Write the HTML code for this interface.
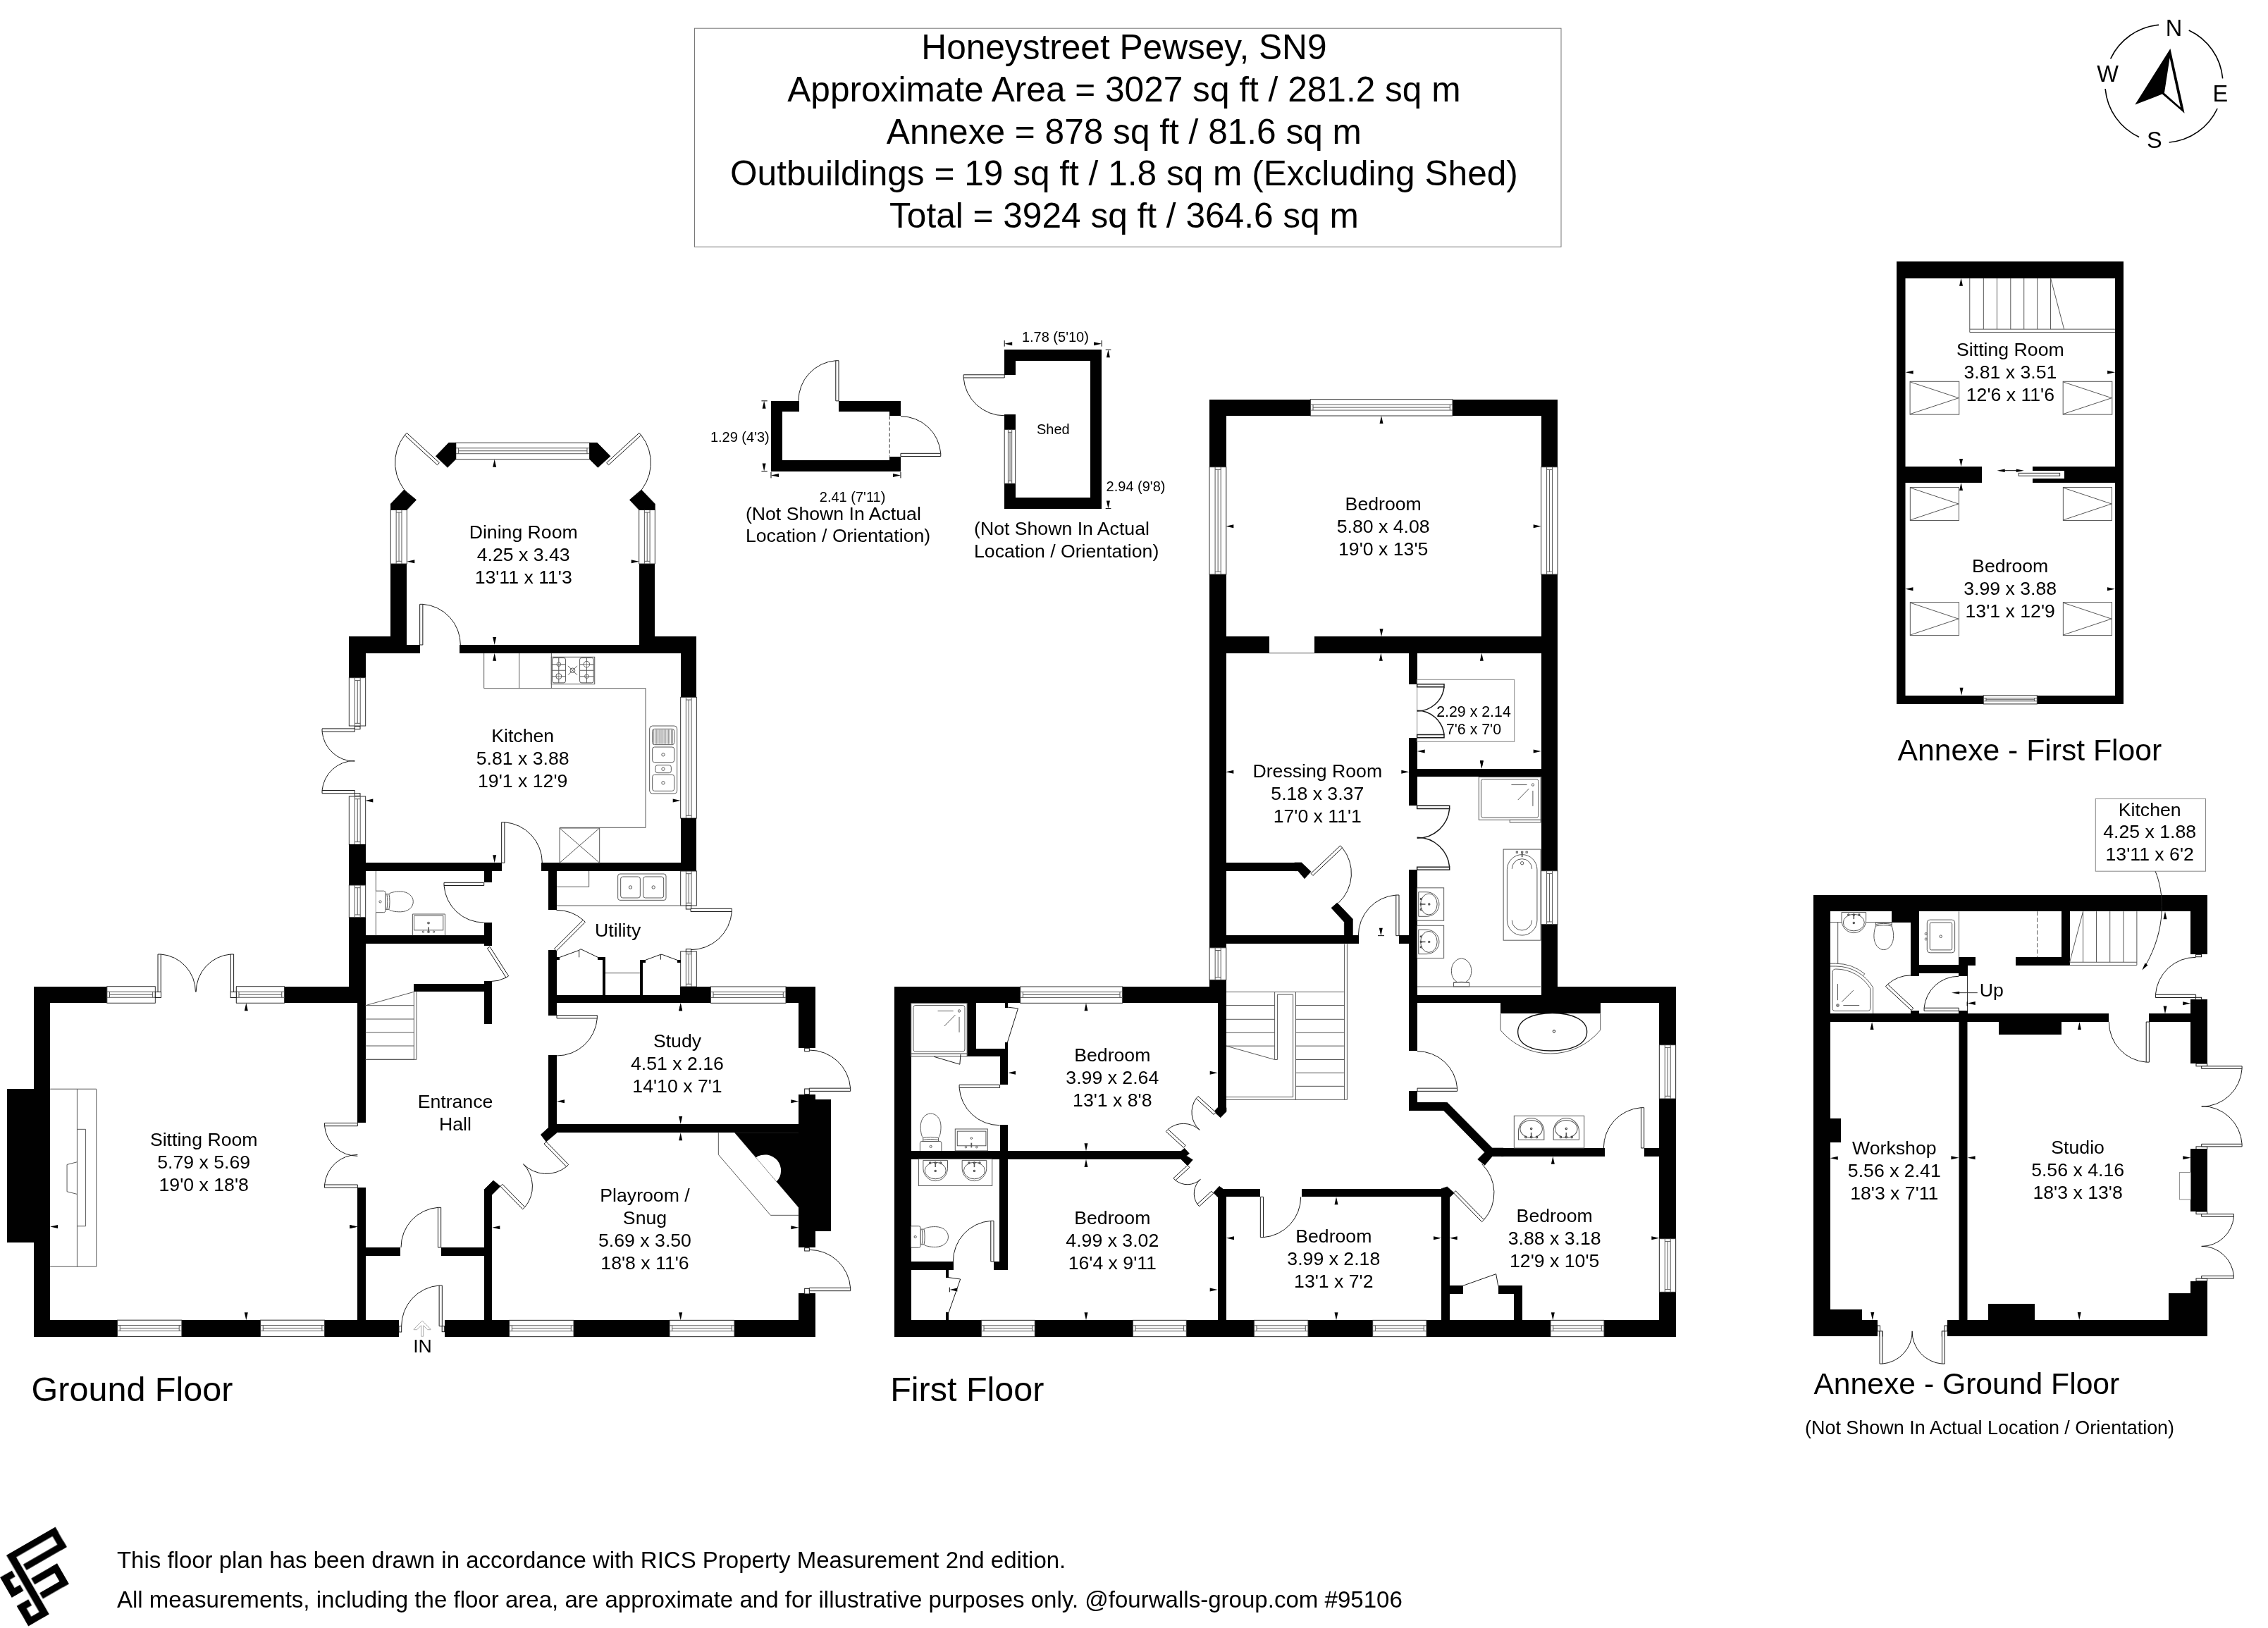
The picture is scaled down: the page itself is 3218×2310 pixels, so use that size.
<!DOCTYPE html>
<html><head><meta charset="utf-8"><title>Floor plan</title>
<style>html,body{margin:0;padding:0;background:#fff}svg{display:block}text{font-family:"Liberation Sans",sans-serif;fill:#000}</style>
</head><body>
<svg width="3218" height="2310" viewBox="0 0 3218 2310">
<rect x="0" y="0" width="3218" height="2310" fill="#fff"/>
<g opacity="0.999">
<rect x="985.5" y="40.2" width="1229.5" height="310.1" fill="#fff" stroke="#777" stroke-width="1"/>
<text x="1594.9" y="84.3" font-size="49.6" text-anchor="middle">Honeystreet Pewsey, SN9</text>
<text x="1594.9" y="143.9" font-size="49.6" text-anchor="middle">Approximate Area = 3027 sq ft / 281.2 sq m</text>
<text x="1594.9" y="203.5" font-size="49.6" text-anchor="middle">Annexe = 878 sq ft / 81.6 sq m</text>
<text x="1594.9" y="263.1" font-size="49.6" text-anchor="middle">Outbuildings = 19 sq ft / 1.8 sq m (Excluding Shed)</text>
<text x="1594.9" y="322.7" font-size="49.6" text-anchor="middle">Total = 3924 sq ft / 364.6 sq m</text>
<path d="M3105.73 42.93 A83.6 83.6 0 0 1 3153.68 111.41" fill="none" stroke="#000" stroke-width="1.6"/>
<path d="M3146.17 154.03 A83.6 83.6 0 0 1 3077.69 201.98" fill="none" stroke="#000" stroke-width="1.6"/>
<path d="M3035.07 194.47 A83.6 83.6 0 0 1 2987.12 125.99" fill="none" stroke="#000" stroke-width="1.6"/>
<path d="M2994.63 83.37 A83.6 83.6 0 0 1 3063.11 35.42" fill="none" stroke="#000" stroke-width="1.6"/>
<text x="3084.4" y="50.8" font-size="32.5" text-anchor="middle">N</text>
<text x="2990.5" y="115.7" font-size="32.5" text-anchor="middle">W</text>
<text x="3150.3" y="143.7" font-size="32.5" text-anchor="middle">E</text>
<text x="3056.9" y="210.1" font-size="32.5" text-anchor="middle">S</text>
<polygon points="3079.4,69 3099.6,160.8 3067.9,133.6 3029.3,148.6" fill="#000"/>
<polygon points="3078.6,82.3 3093.9,152.4 3070.9,132" fill="#fff"/>
<text x="44.6" y="1988.2" font-size="48.5" text-anchor="start">Ground Floor</text>
<text x="1263.2" y="1988.2" font-size="48.5" text-anchor="start">First Floor</text>
<text x="2692.6" y="1079.4" font-size="42.67" text-anchor="start">Annexe - First Floor</text>
<text x="2573.4" y="1977.6" font-size="42.67" text-anchor="start">Annexe - Ground Floor</text>
<text x="2561" y="2035" font-size="26.95" text-anchor="start">(Not Shown In Actual Location / Orientation)</text>
<text x="165.9" y="2224.5" font-size="33" text-anchor="start">This floor plan has been drawn in accordance with RICS Property Measurement 2nd edition.</text>
<text x="165.9" y="2280.8" font-size="33.05" text-anchor="start">All measurements, including the floor area, are approximate and for illustrative purposes only. @fourwalls-group.com #95106</text>
<g transform="translate(9.33 2206.5) rotate(-30) scale(0.09826)" fill="#000">
<rect x="-3" y="0" width="109" height="1047"/>
<rect x="0" y="0" width="811" height="97"/>
<rect x="710" y="0" width="101" height="333"/>
<rect x="140" y="237" width="671" height="96"/>
<rect x="139" y="470" width="433" height="102"/>
<rect x="471" y="470" width="101" height="339"/>
<rect x="139" y="712" width="433" height="97"/>
<rect x="-242" y="233" width="196" height="99"/>
<rect x="-242" y="233" width="105" height="336"/>
<rect x="-242" y="469" width="196" height="100"/>
<rect x="-240" y="711" width="193" height="100"/>
<rect x="-240" y="711" width="105" height="336"/>
<rect x="-240" y="948" width="340" height="99"/>
</g>
<rect x="48" y="1400" width="23" height="496" fill="#000"/>
<rect x="48" y="1400" width="471" height="23" fill="#000"/>
<rect x="48" y="1873" width="518" height="24" fill="#000"/>
<rect x="10" y="1545" width="38" height="218" fill="#000"/>
<rect x="496" y="1340" width="23" height="83" fill="#000"/>
<rect x="507" y="1423" width="12" height="170" fill="#000"/>
<rect x="507" y="1685" width="12" height="188" fill="#000"/>
<rect x="151.8" y="1399.69" width="68.53" height="23.58" fill="#fff" stroke="#333" stroke-width="1"/>
<line x1="151.8" y1="1407.24" x2="220.33" y2="1407.24" stroke="#585858" stroke-width="1"/>
<line x1="151.8" y1="1415.25" x2="220.33" y2="1415.25" stroke="#585858" stroke-width="1"/>
<line x1="155.5" y1="1407.24" x2="155.5" y2="1415.25" stroke="#585858" stroke-width="1"/>
<line x1="216.63" y1="1407.24" x2="216.63" y2="1415.25" stroke="#585858" stroke-width="1"/>
<line x1="155.5" y1="1411.24" x2="216.63" y2="1411.24" stroke="#585858" stroke-width="1"/>
<rect x="335.29" y="1399.69" width="68.16" height="23.58" fill="#fff" stroke="#333" stroke-width="1"/>
<line x1="335.29" y1="1407.24" x2="403.45" y2="1407.24" stroke="#585858" stroke-width="1"/>
<line x1="335.29" y1="1415.25" x2="403.45" y2="1415.25" stroke="#585858" stroke-width="1"/>
<line x1="338.99" y1="1407.24" x2="338.99" y2="1415.25" stroke="#585858" stroke-width="1"/>
<line x1="399.75" y1="1407.24" x2="399.75" y2="1415.25" stroke="#585858" stroke-width="1"/>
<line x1="338.99" y1="1411.24" x2="399.75" y2="1411.24" stroke="#585858" stroke-width="1"/>
<rect x="220.83" y="1397.95" width="113.96" height="27.05" fill="#fff"/>
<rect x="166.54" y="1873.15" width="91.38" height="23.21" fill="#fff" stroke="#333" stroke-width="1"/>
<line x1="166.54" y1="1880.58" x2="257.92" y2="1880.58" stroke="#585858" stroke-width="1"/>
<line x1="166.54" y1="1888.47" x2="257.92" y2="1888.47" stroke="#585858" stroke-width="1"/>
<line x1="170.24" y1="1880.58" x2="170.24" y2="1888.47" stroke="#585858" stroke-width="1"/>
<line x1="254.22" y1="1880.58" x2="254.22" y2="1888.47" stroke="#585858" stroke-width="1"/>
<line x1="170.24" y1="1884.52" x2="254.22" y2="1884.52" stroke="#585858" stroke-width="1"/>
<rect x="369.56" y="1873.15" width="91.01" height="23.21" fill="#fff" stroke="#333" stroke-width="1"/>
<line x1="369.56" y1="1880.58" x2="460.56" y2="1880.58" stroke="#585858" stroke-width="1"/>
<line x1="369.56" y1="1888.47" x2="460.56" y2="1888.47" stroke="#585858" stroke-width="1"/>
<line x1="373.26" y1="1880.58" x2="373.26" y2="1888.47" stroke="#585858" stroke-width="1"/>
<line x1="456.86" y1="1880.58" x2="456.86" y2="1888.47" stroke="#585858" stroke-width="1"/>
<line x1="373.26" y1="1884.52" x2="456.86" y2="1884.52" stroke="#585858" stroke-width="1"/>
<path d="M71.11 1545.23 L136.7 1545.23 L136.7 1797.25 L71.11 1797.25" fill="none" stroke="#585858" stroke-width="1"/>
<line x1="109.43" y1="1545.23" x2="109.43" y2="1797.25" stroke="#585858" stroke-width="1"/>
<path d="M109.43 1602.34 L121.59 1602.34 L121.59 1739.77 L109.43 1739.77" fill="none" stroke="#585858" stroke-width="1"/>
<path d="M109.43 1648.76 L95.06 1652.45 L95.06 1690.77 L109.43 1694.45" fill="none" stroke="#585858" stroke-width="1"/>
<rect x="220.33" y="1407.43" width="8.11" height="8.11" fill="#fff" stroke="#1a1a1a" stroke-width="1"/>
<rect x="327.18" y="1407.43" width="8.11" height="8.11" fill="#fff" stroke="#1a1a1a" stroke-width="1"/>
<polygon points="224.02,1407.43 224.02,1354 228.22,1354 228.22,1407.43" fill="#fff" stroke="#1a1a1a" stroke-width="1"/>
<path d="M228.22 1354 A53.43 53.43 0 0 1 277.44 1407.43" fill="none" stroke="#1a1a1a" stroke-width="1"/>
<polygon points="331.61,1407.43 331.61,1354 327.41,1354 327.41,1407.43" fill="#fff" stroke="#1a1a1a" stroke-width="1"/>
<path d="M327.41 1354 A53.43 53.43 0 0 0 278.18 1407.43" fill="none" stroke="#1a1a1a" stroke-width="1"/>
<polygon points="507.36,1593.49 460.56,1593.49 460.56,1597.69 507.36,1597.69" fill="#fff" stroke="#1a1a1a" stroke-width="1"/>
<path d="M460.56 1597.69 A46.79 46.79 0 0 0 507.36 1640.29" fill="none" stroke="#1a1a1a" stroke-width="1"/>
<polygon points="507.36,1685.24 460.56,1685.24 460.56,1681.04 507.36,1681.04" fill="#fff" stroke="#1a1a1a" stroke-width="1"/>
<path d="M460.56 1681.04 A46.79 46.79 0 0 1 507.36 1638.45" fill="none" stroke="#1a1a1a" stroke-width="1"/>
<polygon points="349.29,1423.27 346.79,1434.27 351.79,1434.27" fill="#000"/>
<polygon points="349.29,1873.15 346.79,1862.15 351.79,1862.15" fill="#000"/>
<polygon points="71.11,1740.51 82.11,1738.01 82.11,1743.01" fill="#000"/>
<polygon points="507.36,1740.51 496.36,1738.01 496.36,1743.01" fill="#000"/>
<text x="289.2" y="1625.5" font-size="26.67" text-anchor="middle">Sitting Room</text>
<text x="289.2" y="1657.5" font-size="26.67" text-anchor="middle">5.79 x 5.69</text>
<text x="289.2" y="1689.5" font-size="26.67" text-anchor="middle">19'0 x 18'8</text>
<rect x="587" y="1396" width="111" height="11" fill="#000"/>
<rect x="687" y="1392" width="11" height="61" fill="#000"/>
<rect x="778" y="1380" width="12" height="61" fill="#000"/>
<rect x="778" y="1497" width="12" height="98" fill="#000"/>
<rect x="778" y="1412" width="379" height="11" fill="#000"/>
<rect x="965" y="1400" width="192" height="23" fill="#000"/>
<rect x="1008.33" y="1400" width="106.67" height="23.33" fill="#fff" stroke="#333" stroke-width="1"/>
<line x1="1008.33" y1="1407.47" x2="1115" y2="1407.47" stroke="#585858" stroke-width="1"/>
<line x1="1008.33" y1="1415.4" x2="1115" y2="1415.4" stroke="#585858" stroke-width="1"/>
<line x1="1012.03" y1="1407.47" x2="1012.03" y2="1415.4" stroke="#585858" stroke-width="1"/>
<line x1="1111.3" y1="1407.47" x2="1111.3" y2="1415.4" stroke="#585858" stroke-width="1"/>
<line x1="1012.03" y1="1411.43" x2="1111.3" y2="1411.43" stroke="#585858" stroke-width="1"/>
<rect x="778" y="1595" width="355" height="12" fill="#000"/>
<rect x="1133" y="1400" width="24" height="87" fill="#000"/>
<rect x="1133" y="1553" width="24" height="217" fill="#000"/>
<rect x="1133" y="1835" width="24" height="62" fill="#000"/>
<rect x="1157" y="1560" width="22" height="187" fill="#000"/>
<polygon points="1042.67,1607.33 1133.33,1607.33 1133.33,1713.33" fill="#000" stroke="#000" stroke-width="0.7"/>
<path d="M1072.66 1642.4 A22.6 22.6 0 0 1 1101.88 1676.57 Z" fill="#fff" stroke="none" stroke-width="1"/>
<path d="M1019.33 1607.33 L1019.33 1638.33 L1093.33 1724.33 L1133.33 1724.33" fill="none" stroke="#585858" stroke-width="1"/>
<rect x="480" y="1873" width="86" height="24" fill="#000"/>
<rect x="631" y="1873" width="526" height="24" fill="#000"/>
<rect x="722.67" y="1873.33" width="91.33" height="23.33" fill="#fff" stroke="#333" stroke-width="1"/>
<line x1="722.67" y1="1880.8" x2="814" y2="1880.8" stroke="#585858" stroke-width="1"/>
<line x1="722.67" y1="1888.73" x2="814" y2="1888.73" stroke="#585858" stroke-width="1"/>
<line x1="726.37" y1="1880.8" x2="726.37" y2="1888.73" stroke="#585858" stroke-width="1"/>
<line x1="810.3" y1="1880.8" x2="810.3" y2="1888.73" stroke="#585858" stroke-width="1"/>
<line x1="726.37" y1="1884.77" x2="810.3" y2="1884.77" stroke="#585858" stroke-width="1"/>
<rect x="950" y="1873.33" width="92" height="23.33" fill="#fff" stroke="#333" stroke-width="1"/>
<line x1="950" y1="1880.8" x2="1042" y2="1880.8" stroke="#585858" stroke-width="1"/>
<line x1="950" y1="1888.73" x2="1042" y2="1888.73" stroke="#585858" stroke-width="1"/>
<line x1="953.7" y1="1880.8" x2="953.7" y2="1888.73" stroke="#585858" stroke-width="1"/>
<line x1="1038.3" y1="1880.8" x2="1038.3" y2="1888.73" stroke="#585858" stroke-width="1"/>
<line x1="953.7" y1="1884.77" x2="1038.3" y2="1884.77" stroke="#585858" stroke-width="1"/>
<rect x="687" y="1688" width="11" height="185" fill="#000"/>
<rect x="507" y="1770" width="61" height="12" fill="#000"/>
<rect x="626" y="1770" width="72" height="12" fill="#000"/>
<polygon points="767.33,1610 778.33,1600 790,1607.33 775,1620" fill="#000" stroke="#000" stroke-width="0.7"/>
<polygon points="686.67,1688.33 700,1675 710,1683.33 698.33,1695" fill="#000" stroke="#000" stroke-width="0.7"/>
<polygon points="790,1440.67 847.33,1440.67 847.33,1444.87 790,1444.87" fill="#fff" stroke="#1a1a1a" stroke-width="1"/>
<path d="M847.33 1444.87 A57.33 57.33 0 0 1 790 1498" fill="none" stroke="#1a1a1a" stroke-width="1"/>
<polygon points="775,1620 806.66,1652.44 803.66,1655.38 771.99,1622.93" fill="#fff" stroke="#1a1a1a" stroke-width="1"/>
<path d="M803.66 1655.38 A45.33 45.33 0 0 1 742.56 1651.66" fill="none" stroke="#1a1a1a" stroke-width="1"/>
<polygon points="710,1683.33 741.66,1715.78 744.67,1712.84 713.01,1680.4" fill="#fff" stroke="#1a1a1a" stroke-width="1"/>
<path d="M744.67 1712.84 A45.33 45.33 0 0 0 742.44 1651.67" fill="none" stroke="#1a1a1a" stroke-width="1"/>
<polygon points="625.67,1770 625.67,1713.33 621.47,1713.33 621.47,1770" fill="#fff" stroke="#1a1a1a" stroke-width="1"/>
<path d="M621.47 1713.33 A56.67 56.67 0 0 0 569 1770" fill="none" stroke="#1a1a1a" stroke-width="1"/>
<polygon points="627.33,1881.67 627.33,1824 623.13,1824 623.13,1881.67" fill="#fff" stroke="#1a1a1a" stroke-width="1"/>
<path d="M623.13 1824 A57.67 57.67 0 0 0 569.67 1881.67" fill="none" stroke="#1a1a1a" stroke-width="1"/>
<rect x="627.2" y="1881.67" width="3.47" height="8" fill="#fff" stroke="#1a1a1a" stroke-width="1"/>
<rect x="566" y="1881.67" width="3.67" height="8.33" fill="#fff" stroke="#1a1a1a" stroke-width="1"/>
<rect x="1141.67" y="1545" width="6.67" height="7.67" fill="#fff" stroke="#1a1a1a" stroke-width="1"/>
<rect x="1141.67" y="1487.33" width="6.67" height="4.33" fill="#fff" stroke="#1a1a1a" stroke-width="1"/>
<polygon points="1148.33,1548.33 1206.67,1548.33 1206.67,1544.13 1148.33,1544.13" fill="#fff" stroke="#1a1a1a" stroke-width="1"/>
<path d="M1206.67 1544.13 A58.33 58.33 0 0 0 1148.33 1490" fill="none" stroke="#1a1a1a" stroke-width="1"/>
<rect x="1141.67" y="1828.33" width="6.67" height="7.67" fill="#fff" stroke="#1a1a1a" stroke-width="1"/>
<rect x="1141.67" y="1770.67" width="6.67" height="4.33" fill="#fff" stroke="#1a1a1a" stroke-width="1"/>
<polygon points="1148.33,1831.67 1206.67,1831.67 1206.67,1827.47 1148.33,1827.47" fill="#fff" stroke="#1a1a1a" stroke-width="1"/>
<path d="M1206.67 1827.47 A58.33 58.33 0 0 0 1148.33 1773.33" fill="none" stroke="#1a1a1a" stroke-width="1"/>
<line x1="518.67" y1="1426.67" x2="587.33" y2="1426.67" stroke="#585858" stroke-width="1"/>
<line x1="518.67" y1="1446" x2="587.33" y2="1446" stroke="#585858" stroke-width="1"/>
<line x1="518.67" y1="1465" x2="587.33" y2="1465" stroke="#585858" stroke-width="1"/>
<line x1="518.67" y1="1484" x2="587.33" y2="1484" stroke="#585858" stroke-width="1"/>
<line x1="518.67" y1="1503.33" x2="587.33" y2="1503.33" stroke="#585858" stroke-width="1"/>
<line x1="518.67" y1="1426.67" x2="587.33" y2="1407.33" stroke="#585858" stroke-width="1"/>
<path d="M587.33 1407.33 L587.33 1503.33" fill="none" stroke="#585858" stroke-width="1"/>
<path d="M591 1407.33 L591 1503.33 L518.67 1503.33" fill="none" stroke="#585858" stroke-width="1"/>
<polygon points="965.67,1423.33 963.17,1434.33 968.17,1434.33" fill="#000"/>
<polygon points="965.67,1595 963.17,1584 968.17,1584" fill="#000"/>
<polygon points="965.67,1607.33 963.17,1618.33 968.17,1618.33" fill="#000"/>
<polygon points="790,1562.67 801,1560.17 801,1565.17" fill="#000"/>
<polygon points="1133.33,1562.67 1122.33,1560.17 1122.33,1565.17" fill="#000"/>
<polygon points="698.33,1741.67 709.33,1739.17 709.33,1744.17" fill="#000"/>
<polygon points="1133.33,1741.67 1122.33,1739.17 1122.33,1744.17" fill="#000"/>
<polygon points="965.67,1873.33 963.17,1862.33 968.17,1862.33" fill="#000"/>
<polygon points="507.33,1740.67 496.33,1738.17 496.33,1743.17" fill="#000"/>
<text x="646" y="1571.7" font-size="26.67" text-anchor="middle">Entrance</text>
<text x="646" y="1603.7" font-size="26.67" text-anchor="middle">Hall</text>
<text x="961" y="1486" font-size="26.67" text-anchor="middle">Study</text>
<text x="961" y="1518" font-size="26.67" text-anchor="middle">4.51 x 2.16</text>
<text x="961" y="1550" font-size="26.67" text-anchor="middle">14'10 x 7'1</text>
<text x="915" y="1705" font-size="26.67" text-anchor="middle">Playroom /</text>
<text x="915" y="1737" font-size="26.67" text-anchor="middle">Snug</text>
<text x="915" y="1769" font-size="26.67" text-anchor="middle">5.69 x 3.50</text>
<text x="915" y="1801" font-size="26.67" text-anchor="middle">18'8 x 11'6</text>
<text x="599.5" y="1919.3" font-size="26.67" text-anchor="middle">IN</text>
<path d="M599.1 1874.1 L611 1885.9 L611 1886.7 L606.6 1886.7 L600.7 1880.8 L600.7 1896.2 L597.6 1896.2 L597.6 1880.8 L591.5 1886.7 L587.1 1886.7 L587.1 1885.9 Z" fill="none" stroke="#aaa" stroke-width="1"/>
<rect x="554" y="800" width="23" height="115" fill="#000"/>
<rect x="554.33" y="723.33" width="23" height="76.67" fill="#fff" stroke="#333" stroke-width="1"/>
<line x1="562.15" y1="723.33" x2="562.15" y2="800" stroke="#585858" stroke-width="1"/>
<line x1="569.97" y1="723.33" x2="569.97" y2="800" stroke="#585858" stroke-width="1"/>
<line x1="562.15" y1="727.03" x2="569.97" y2="727.03" stroke="#585858" stroke-width="1"/>
<line x1="562.15" y1="796.3" x2="569.97" y2="796.3" stroke="#585858" stroke-width="1"/>
<line x1="566.06" y1="727.03" x2="566.06" y2="796.3" stroke="#585858" stroke-width="1"/>
<polygon points="554.33,715 573.33,695 590.67,709.33 577.33,723.33 554.33,723.33" fill="#000" stroke="#000" stroke-width="0.7"/>
<rect x="646.67" y="628.33" width="190" height="23.33" fill="#fff" stroke="#333" stroke-width="1"/>
<line x1="646.67" y1="635.8" x2="836.67" y2="635.8" stroke="#585858" stroke-width="1"/>
<line x1="646.67" y1="643.73" x2="836.67" y2="643.73" stroke="#585858" stroke-width="1"/>
<line x1="650.37" y1="635.8" x2="650.37" y2="643.73" stroke="#585858" stroke-width="1"/>
<line x1="832.97" y1="635.8" x2="832.97" y2="643.73" stroke="#585858" stroke-width="1"/>
<line x1="650.37" y1="639.77" x2="832.97" y2="639.77" stroke="#585858" stroke-width="1"/>
<polygon points="636.67,628.33 646.67,628.33 646.67,651.67 635,663.33 618.33,647.33" fill="#000" stroke="#000" stroke-width="0.7"/>
<polygon points="836.67,628.33 847.33,628.33 866,647.33 848.33,663.33 836.67,651.67" fill="#000" stroke="#000" stroke-width="0.7"/>
<rect x="907" y="800" width="22" height="115" fill="#000"/>
<rect x="906.67" y="723.33" width="22.67" height="76.67" fill="#fff" stroke="#333" stroke-width="1"/>
<line x1="914.37" y1="723.33" x2="914.37" y2="800" stroke="#585858" stroke-width="1"/>
<line x1="922.08" y1="723.33" x2="922.08" y2="800" stroke="#585858" stroke-width="1"/>
<line x1="914.37" y1="727.03" x2="922.08" y2="727.03" stroke="#585858" stroke-width="1"/>
<line x1="914.37" y1="796.3" x2="922.08" y2="796.3" stroke="#585858" stroke-width="1"/>
<line x1="918.23" y1="727.03" x2="918.23" y2="796.3" stroke="#585858" stroke-width="1"/>
<polygon points="929.33,715 910,695 893.33,709.33 906.67,723.33 929.33,723.33" fill="#000" stroke="#000" stroke-width="0.7"/>
<rect x="495" y="903" width="82" height="24" fill="#000"/>
<rect x="577" y="915" width="19" height="12" fill="#000"/>
<rect x="652" y="915" width="255" height="12" fill="#000"/>
<rect x="907" y="903" width="81" height="24" fill="#000"/>
<rect x="495" y="903" width="24" height="59" fill="#000"/>
<rect x="966" y="903" width="22" height="86" fill="#000"/>
<polygon points="623.33,656.67 577.13,614.33 574.29,617.43 620.5,659.76" fill="#fff" stroke="#1a1a1a" stroke-width="1"/>
<path d="M574.29 617.43 A62.67 62.67 0 0 0 581 702.87" fill="none" stroke="#1a1a1a" stroke-width="1"/>
<polygon points="860.67,656.67 906.87,614.33 909.71,617.43 863.5,659.76" fill="#fff" stroke="#1a1a1a" stroke-width="1"/>
<path d="M909.71 617.43 A62.67 62.67 0 0 1 903 702.87" fill="none" stroke="#1a1a1a" stroke-width="1"/>
<polygon points="595.67,915 595.67,857.33 599.87,857.33 599.87,915" fill="#fff" stroke="#1a1a1a" stroke-width="1"/>
<path d="M599.87 857.33 A57.67 57.67 0 0 1 653.33 915" fill="none" stroke="#1a1a1a" stroke-width="1"/>
<path d="M686.67 926.67 L686.67 976.67 L916 976.67 L916 1174.33 L794 1174.33" fill="none" stroke="#585858" stroke-width="1"/>
<line x1="736.67" y1="926.67" x2="736.67" y2="976.67" stroke="#585858" stroke-width="1"/>
<line x1="782.33" y1="926.67" x2="782.33" y2="976.67" stroke="#585858" stroke-width="1"/>
<rect x="782.29" y="932.29" width="61.44" height="38.34" fill="#fff" stroke="#585858" stroke-width="1"/>
<rect x="783.47" y="933.47" width="18.97" height="35.39" rx="2.5" fill="none" stroke="#585858" stroke-width="1"/>
<line x1="792.81" y1="933.47" x2="792.81" y2="968.86" stroke="#585858" stroke-width="1"/>
<line x1="783.47" y1="942.81" x2="802.44" y2="942.81" stroke="#585858" stroke-width="1"/>
<line x1="783.47" y1="951.26" x2="802.44" y2="951.26" stroke="#585858" stroke-width="1"/>
<line x1="783.47" y1="959.81" x2="802.44" y2="959.81" stroke="#585858" stroke-width="1"/>
<circle cx="792.81" cy="942.61" r="2.8" fill="#fff" stroke="#585858" stroke-width="1"/>
<line x1="790.01" y1="942.61" x2="795.61" y2="942.61" stroke="#585858" stroke-width="0.7"/>
<line x1="792.81" y1="939.81" x2="792.81" y2="945.41" stroke="#585858" stroke-width="0.7"/>
<circle cx="792.81" cy="959.62" r="4" fill="#fff" stroke="#585858" stroke-width="1"/>
<line x1="788.81" y1="959.62" x2="796.81" y2="959.62" stroke="#585858" stroke-width="0.7"/>
<line x1="792.81" y1="955.62" x2="792.81" y2="963.62" stroke="#585858" stroke-width="0.7"/>
<rect x="822.59" y="933.47" width="19.66" height="35.39" rx="2.5" fill="none" stroke="#585858" stroke-width="1"/>
<line x1="832.42" y1="933.47" x2="832.42" y2="968.86" stroke="#585858" stroke-width="1"/>
<line x1="822.59" y1="942.81" x2="842.25" y2="942.81" stroke="#585858" stroke-width="1"/>
<line x1="822.59" y1="951.26" x2="842.25" y2="951.26" stroke="#585858" stroke-width="1"/>
<line x1="822.59" y1="959.81" x2="842.25" y2="959.81" stroke="#585858" stroke-width="1"/>
<circle cx="832.42" cy="942.61" r="4.1" fill="#fff" stroke="#585858" stroke-width="1"/>
<line x1="828.32" y1="942.61" x2="836.52" y2="942.61" stroke="#585858" stroke-width="0.7"/>
<line x1="832.42" y1="938.51" x2="832.42" y2="946.71" stroke="#585858" stroke-width="0.7"/>
<circle cx="832.42" cy="959.62" r="2.8" fill="#fff" stroke="#585858" stroke-width="1"/>
<line x1="829.62" y1="959.62" x2="835.22" y2="959.62" stroke="#585858" stroke-width="0.7"/>
<line x1="832.42" y1="956.82" x2="832.42" y2="962.42" stroke="#585858" stroke-width="0.7"/>
<circle cx="812.47" cy="951.26" r="3.3" fill="none" stroke="#585858" stroke-width="1"/>
<line x1="806.07" y1="944.86" x2="818.87" y2="957.66" stroke="#585858" stroke-width="1"/>
<line x1="806.07" y1="957.66" x2="818.87" y2="944.86" stroke="#585858" stroke-width="1"/>
<polygon points="701.67,651.67 699.17,662.67 704.17,662.67" fill="#000"/>
<polygon points="577.33,796.67 588.33,794.17 588.33,799.17" fill="#000"/>
<polygon points="906.67,796.67 895.67,794.17 895.67,799.17" fill="#000"/>
<polygon points="701.67,915 699.17,904 704.17,904" fill="#000"/>
<polygon points="701.67,926.67 699.17,937.67 704.17,937.67" fill="#000"/>
<text x="742.7" y="764" font-size="26.67" text-anchor="middle">Dining Room</text>
<text x="742.7" y="796" font-size="26.67" text-anchor="middle">4.25 x 3.43</text>
<text x="742.7" y="828" font-size="26.67" text-anchor="middle">13'11 x 11'3</text>
<text x="741.7" y="1052.7" font-size="26.67" text-anchor="middle">Kitchen</text>
<text x="741.7" y="1084.7" font-size="26.67" text-anchor="middle">5.81 x 3.88</text>
<text x="741.7" y="1116.7" font-size="26.67" text-anchor="middle">19'1 x 12'9</text>
<rect x="495.33" y="961.67" width="23.33" height="68.33" fill="#fff" stroke="#333" stroke-width="1"/>
<line x1="503.27" y1="961.67" x2="503.27" y2="1030" stroke="#585858" stroke-width="1"/>
<line x1="511.2" y1="961.67" x2="511.2" y2="1030" stroke="#585858" stroke-width="1"/>
<line x1="503.27" y1="965.37" x2="511.2" y2="965.37" stroke="#585858" stroke-width="1"/>
<line x1="503.27" y1="1026.3" x2="511.2" y2="1026.3" stroke="#585858" stroke-width="1"/>
<line x1="507.23" y1="965.37" x2="507.23" y2="1026.3" stroke="#585858" stroke-width="1"/>
<rect x="495.33" y="1130" width="23.33" height="68.33" fill="#fff" stroke="#333" stroke-width="1"/>
<line x1="503.27" y1="1130" x2="503.27" y2="1198.33" stroke="#585858" stroke-width="1"/>
<line x1="511.2" y1="1130" x2="511.2" y2="1198.33" stroke="#585858" stroke-width="1"/>
<line x1="503.27" y1="1133.7" x2="511.2" y2="1133.7" stroke="#585858" stroke-width="1"/>
<line x1="503.27" y1="1194.63" x2="511.2" y2="1194.63" stroke="#585858" stroke-width="1"/>
<line x1="507.23" y1="1133.7" x2="507.23" y2="1194.63" stroke="#585858" stroke-width="1"/>
<rect x="495" y="1198" width="24" height="58" fill="#000"/>
<rect x="495.33" y="1256" width="23.33" height="45.67" fill="#fff" stroke="#333" stroke-width="1"/>
<line x1="503.27" y1="1256" x2="503.27" y2="1301.67" stroke="#585858" stroke-width="1"/>
<line x1="511.2" y1="1256" x2="511.2" y2="1301.67" stroke="#585858" stroke-width="1"/>
<line x1="503.27" y1="1259.7" x2="511.2" y2="1259.7" stroke="#585858" stroke-width="1"/>
<line x1="503.27" y1="1297.97" x2="511.2" y2="1297.97" stroke="#585858" stroke-width="1"/>
<line x1="507.23" y1="1259.7" x2="507.23" y2="1297.97" stroke="#585858" stroke-width="1"/>
<rect x="495" y="1302" width="24" height="98" fill="#000"/>
<rect x="495" y="1224" width="217" height="12" fill="#000"/>
<rect x="768" y="1224" width="220" height="12" fill="#000"/>
<rect x="965.67" y="989.33" width="22.67" height="171.67" fill="#fff" stroke="#333" stroke-width="1"/>
<line x1="973.37" y1="989.33" x2="973.37" y2="1161" stroke="#585858" stroke-width="1"/>
<line x1="981.08" y1="989.33" x2="981.08" y2="1161" stroke="#585858" stroke-width="1"/>
<line x1="973.37" y1="993.03" x2="981.08" y2="993.03" stroke="#585858" stroke-width="1"/>
<line x1="973.37" y1="1157.3" x2="981.08" y2="1157.3" stroke="#585858" stroke-width="1"/>
<line x1="977.23" y1="993.03" x2="977.23" y2="1157.3" stroke="#585858" stroke-width="1"/>
<rect x="966" y="1161" width="22" height="75" fill="#000"/>
<rect x="965.67" y="1236" width="22.67" height="49" fill="#fff" stroke="#333" stroke-width="1"/>
<line x1="973.37" y1="1236" x2="973.37" y2="1285" stroke="#585858" stroke-width="1"/>
<line x1="981.08" y1="1236" x2="981.08" y2="1285" stroke="#585858" stroke-width="1"/>
<line x1="973.37" y1="1239.7" x2="981.08" y2="1239.7" stroke="#585858" stroke-width="1"/>
<line x1="973.37" y1="1281.3" x2="981.08" y2="1281.3" stroke="#585858" stroke-width="1"/>
<line x1="977.23" y1="1239.7" x2="977.23" y2="1281.3" stroke="#585858" stroke-width="1"/>
<rect x="965.67" y="1350" width="22.67" height="50" fill="#fff" stroke="#333" stroke-width="1"/>
<line x1="973.37" y1="1350" x2="973.37" y2="1400" stroke="#585858" stroke-width="1"/>
<line x1="981.08" y1="1350" x2="981.08" y2="1400" stroke="#585858" stroke-width="1"/>
<line x1="973.37" y1="1353.7" x2="981.08" y2="1353.7" stroke="#585858" stroke-width="1"/>
<line x1="973.37" y1="1396.3" x2="981.08" y2="1396.3" stroke="#585858" stroke-width="1"/>
<line x1="977.23" y1="1353.7" x2="977.23" y2="1396.3" stroke="#585858" stroke-width="1"/>
<rect x="966" y="1400" width="42" height="23" fill="#000"/>
<rect x="495" y="1327" width="203" height="12" fill="#000"/>
<rect x="687" y="1236" width="11" height="16" fill="#000"/>
<rect x="687" y="1309" width="11" height="33" fill="#000"/>
<rect x="687" y="1392" width="11" height="61" fill="#000"/>
<rect x="588" y="1396" width="110" height="11" fill="#000"/>
<rect x="778" y="1236" width="12" height="55" fill="#000"/>
<rect x="778" y="1348" width="12" height="92" fill="#000"/>
<rect x="778" y="1412" width="230" height="11" fill="#000"/>
<rect x="1115" y="1400" width="42" height="23" fill="#000"/>
<rect x="855" y="1358" width="4" height="54" fill="#000"/>
<rect x="848" y="1358" width="11" height="4" fill="#000"/>
<rect x="908" y="1362" width="4" height="50" fill="#000"/>
<rect x="908" y="1362" width="8" height="4" fill="#000"/>
<rect x="790" y="1358" width="4" height="4" fill="#000"/>
<rect x="961" y="1362" width="5" height="4" fill="#000"/>
<path d="M794.33 1358.33 L821.67 1348.33 L821.67 1358.33" fill="none" stroke="#1a1a1a" stroke-width="1"/>
<path d="M848.33 1358.33 L824 1346.67 L821.67 1348.33" fill="none" stroke="#1a1a1a" stroke-width="1"/>
<path d="M915.67 1362.33 L937.33 1354.33 L937.33 1361.67" fill="none" stroke="#1a1a1a" stroke-width="1"/>
<path d="M961 1362.33 L939.33 1354.33 L937.33 1354.33" fill="none" stroke="#1a1a1a" stroke-width="1"/>
<line x1="859" y1="1380.67" x2="908.33" y2="1380.67" stroke="#585858" stroke-width="1"/>
<line x1="790" y1="1285" x2="965.67" y2="1285" stroke="#585858" stroke-width="1"/>
<path d="M835.67 1236 L835.67 1258.33 L790 1258.33" fill="none" stroke="#585858" stroke-width="1"/>
<rect x="876.67" y="1240" width="68.33" height="37.33" rx="3" fill="none" stroke="#585858" stroke-width="1"/>
<rect x="880.67" y="1244" width="27.67" height="30" rx="3" fill="none" stroke="#585858" stroke-width="1"/>
<circle cx="894.5" cy="1259" r="2.2" fill="none" stroke="#585858" stroke-width="1"/>
<rect x="912.67" y="1244" width="29" height="30" rx="3" fill="none" stroke="#585858" stroke-width="1"/>
<circle cx="927.17" cy="1259" r="2.2" fill="none" stroke="#585858" stroke-width="1"/>
<rect x="921.67" y="1030" width="39" height="96" rx="4" fill="none" stroke="#585858" stroke-width="1"/>
<rect x="925.67" y="1034.33" width="31" height="22.33" rx="3" fill="none" stroke="#585858" stroke-width="1"/>
<line x1="927.67" y1="1035.33" x2="927.67" y2="1055.67" stroke="#585858" stroke-width="0.7"/>
<line x1="929.73" y1="1035.33" x2="929.73" y2="1055.67" stroke="#585858" stroke-width="0.7"/>
<line x1="931.8" y1="1035.33" x2="931.8" y2="1055.67" stroke="#585858" stroke-width="0.7"/>
<line x1="933.87" y1="1035.33" x2="933.87" y2="1055.67" stroke="#585858" stroke-width="0.7"/>
<line x1="935.93" y1="1035.33" x2="935.93" y2="1055.67" stroke="#585858" stroke-width="0.7"/>
<line x1="938" y1="1035.33" x2="938" y2="1055.67" stroke="#585858" stroke-width="0.7"/>
<line x1="940.07" y1="1035.33" x2="940.07" y2="1055.67" stroke="#585858" stroke-width="0.7"/>
<line x1="942.13" y1="1035.33" x2="942.13" y2="1055.67" stroke="#585858" stroke-width="0.7"/>
<line x1="944.2" y1="1035.33" x2="944.2" y2="1055.67" stroke="#585858" stroke-width="0.7"/>
<line x1="946.27" y1="1035.33" x2="946.27" y2="1055.67" stroke="#585858" stroke-width="0.7"/>
<line x1="948.33" y1="1035.33" x2="948.33" y2="1055.67" stroke="#585858" stroke-width="0.7"/>
<line x1="950.4" y1="1035.33" x2="950.4" y2="1055.67" stroke="#585858" stroke-width="0.7"/>
<line x1="952.47" y1="1035.33" x2="952.47" y2="1055.67" stroke="#585858" stroke-width="0.7"/>
<line x1="954.53" y1="1035.33" x2="954.53" y2="1055.67" stroke="#585858" stroke-width="0.7"/>
<rect x="925.67" y="1060" width="31" height="21.67" rx="3" fill="none" stroke="#585858" stroke-width="1"/>
<circle cx="941" cy="1070.83" r="2.2" fill="none" stroke="#585858" stroke-width="1"/>
<rect x="930" y="1085.67" width="22.33" height="11" rx="3" fill="none" stroke="#585858" stroke-width="1"/>
<circle cx="941" cy="1091.17" r="2.2" fill="none" stroke="#585858" stroke-width="1"/>
<rect x="925.67" y="1099.33" width="31" height="23" rx="3" fill="none" stroke="#585858" stroke-width="1"/>
<circle cx="941" cy="1110.83" r="2.2" fill="none" stroke="#585858" stroke-width="1"/>
<rect x="794" y="1175" width="56.67" height="49.33" fill="none" stroke="#585858" stroke-width="1"/>
<line x1="794" y1="1175" x2="850.67" y2="1224.33" stroke="#585858" stroke-width="1"/>
<line x1="794" y1="1224.33" x2="850.67" y2="1175" stroke="#585858" stroke-width="1"/>
<polygon points="789.33,1349.33 830.35,1308.32 827.38,1305.35 786.36,1346.36" fill="#fff" stroke="#1a1a1a" stroke-width="1"/>
<path d="M827.38 1305.35 A58 58 0 0 0 789.33 1291.33" fill="none" stroke="#1a1a1a" stroke-width="1"/>
<rect x="973.33" y="1285" width="7.33" height="5" fill="#fff" stroke="#1a1a1a" stroke-width="1"/>
<rect x="973.33" y="1346.67" width="7.33" height="4" fill="#fff" stroke="#1a1a1a" stroke-width="1"/>
<polygon points="980,1289.33 1038.33,1289.33 1038.33,1293.53 980,1293.53" fill="#fff" stroke="#1a1a1a" stroke-width="1"/>
<path d="M1038.33 1293.53 A58.33 58.33 0 0 1 980 1347.67" fill="none" stroke="#1a1a1a" stroke-width="1"/>
<polygon points="686.67,1252.33 630,1252.33 630,1256.53 686.67,1256.53" fill="#fff" stroke="#1a1a1a" stroke-width="1"/>
<path d="M630 1256.53 A56.67 56.67 0 0 0 686.67 1309" fill="none" stroke="#1a1a1a" stroke-width="1"/>
<polygon points="695,1343.33 721.58,1384.89 718.04,1387.16 691.46,1345.6" fill="#fff" stroke="#1a1a1a" stroke-width="1"/>
<path d="M718.04 1387.16 A49.33 49.33 0 0 1 695 1392.67" fill="none" stroke="#1a1a1a" stroke-width="1"/>
<polygon points="711.67,1224.33 711.67,1166.67 715.87,1166.67 715.87,1224.33" fill="#fff" stroke="#1a1a1a" stroke-width="1"/>
<path d="M715.87 1166.67 A57.67 57.67 0 0 1 769.33 1224.33" fill="none" stroke="#1a1a1a" stroke-width="1"/>
<rect x="503.33" y="1030.61" width="7.67" height="3.97" fill="#fff" stroke="#1a1a1a" stroke-width="1"/>
<rect x="503.33" y="1125.71" width="7.67" height="3.7" fill="#fff" stroke="#1a1a1a" stroke-width="1"/>
<polygon points="503.33,1033.92 457.04,1033.92 457.04,1038.12 503.33,1038.12" fill="#fff" stroke="#1a1a1a" stroke-width="1"/>
<path d="M457.04 1038.12 A46.3 46.3 0 0 0 503.33 1080.21" fill="none" stroke="#1a1a1a" stroke-width="1"/>
<polygon points="503.33,1125.71 457.04,1125.71 457.04,1121.51 503.33,1121.51" fill="#fff" stroke="#1a1a1a" stroke-width="1"/>
<path d="M457.04 1121.51 A46.3 46.3 0 0 1 503.33 1079.42" fill="none" stroke="#1a1a1a" stroke-width="1"/>
<line x1="533.33" y1="1236" x2="533.33" y2="1327.33" stroke="#585858" stroke-width="1"/>
<g transform="translate(533.51 1279.43) rotate(-90) scale(1)" fill="#fff" stroke="#585858" stroke-width="1">
<path d="M-10.9 13.4 L-10.9 18.4 C-12.6 19.6 -14.6 26 -14.4 35 C-14.2 45.5 -8 52.8 0 52.8 C8 52.8 14.2 45.5 14.4 35 C14.6 26 12.6 19.6 10.9 18.4 L10.9 13.4 Z"/>
<path d="M-10.9 15.4 C-5 16.6 5 16.6 10.9 15.4 M-10.9 18.4 C-5 19.8 5 19.8 10.9 18.4" fill="none"/>
<path d="M-15.25 0 L-15.25 11 Q-15.25 13.4 -12.8 13.4 L12.8 13.4 Q15.25 13.4 15.25 11 L15.25 0" />
<circle cx="0" cy="6" r="1.6"/>
</g>
<path d="M585.37 1327.18 L585.37 1297.02 L631.45 1297.02 L631.45 1327.18" fill="none" stroke="#585858" stroke-width="1"/>
<rect x="587.46" y="1299.37" width="41.3" height="20.44" fill="none" stroke="#585858" stroke-width="1"/>
<circle cx="607.99" cy="1309.59" r="1.3" fill="none" stroke="#585858" stroke-width="1.2"/>
<circle cx="600.45" cy="1322.15" r="1.2" fill="none" stroke="#585858" stroke-width="1"/>
<circle cx="615.53" cy="1322.15" r="1.2" fill="none" stroke="#585858" stroke-width="1"/>
<circle cx="607.99" cy="1322.15" r="1.2" fill="none" stroke="#585858" stroke-width="1.2"/>
<line x1="607.99" y1="1315.45" x2="607.99" y2="1322.15" stroke="#585858" stroke-width="1.7"/>
<polygon points="518.33,1136 529.33,1133.5 529.33,1138.5" fill="#000"/>
<polygon points="965.67,1136 954.67,1133.5 954.67,1138.5" fill="#000"/>
<polygon points="701.67,1224.33 699.17,1213.33 704.17,1213.33" fill="#000"/>
<polygon points="965.67,1423.33 963.17,1434.33 968.17,1434.33" fill="#000"/>
<text x="876.7" y="1329.3" font-size="26.67" text-anchor="middle">Utility</text>
<rect x="1094" y="569" width="40" height="15" fill="#000"/>
<rect x="1190" y="569" width="88" height="15" fill="#000"/>
<rect x="1094" y="569" width="16" height="100" fill="#000"/>
<rect x="1094" y="653" width="184" height="16" fill="#000"/>
<rect x="1262" y="584" width="16" height="6" fill="#000"/>
<rect x="1262" y="648" width="16" height="5" fill="#000"/>
<line x1="1262.22" y1="590.43" x2="1262.22" y2="647.53" stroke="#333" stroke-width="1" stroke-dasharray="5 3"/>
<polygon points="1190,568.83 1190,511.73 1185.8,511.73 1185.8,568.83" fill="#fff" stroke="#1a1a1a" stroke-width="1"/>
<path d="M1185.8 511.73 A57.1 57.1 0 0 0 1132.9 568.83" fill="none" stroke="#1a1a1a" stroke-width="1"/>
<polygon points="1277.96,647.53 1334.75,647.53 1334.75,643.33 1277.96,643.33" fill="#fff" stroke="#1a1a1a" stroke-width="1"/>
<path d="M1334.75 643.33 A56.79 56.79 0 0 0 1277.96 590.74" fill="none" stroke="#1a1a1a" stroke-width="1"/>
<line x1="1080.43" y1="568.83" x2="1088.77" y2="568.83" stroke="#000" stroke-width="1"/>
<polygon points="1084.14,568.83 1081.64,579.83 1086.64,579.83" fill="#000"/>
<line x1="1080.43" y1="668.52" x2="1088.77" y2="668.52" stroke="#000" stroke-width="1"/>
<polygon points="1084.14,668.52 1081.64,657.52 1086.64,657.52" fill="#000"/>
<line x1="1094.01" y1="669.75" x2="1094.01" y2="678.4" stroke="#000" stroke-width="1"/>
<polygon points="1094.01,674.38 1105.01,671.88 1105.01,676.88" fill="#000"/>
<line x1="1277.96" y1="669.75" x2="1277.96" y2="678.4" stroke="#000" stroke-width="1"/>
<polygon points="1277.96,674.38 1266.96,671.88 1266.96,676.88" fill="#000"/>
<text x="1007.9" y="626.9" font-size="20" text-anchor="start">1.29 (4'3)</text>
<text x="1162.8" y="711.7" font-size="20" text-anchor="start">2.41 (7'11)</text>
<text x="1057.9" y="737.7" font-size="26.67" text-anchor="start">(Not Shown In Actual</text>
<text x="1057.9" y="769.4" font-size="26.67" text-anchor="start">Location / Orientation)</text>
<rect x="1425" y="496" width="138" height="16" fill="#000"/>
<rect x="1547" y="496" width="16" height="226" fill="#000"/>
<rect x="1425" y="706" width="138" height="16" fill="#000"/>
<rect x="1425" y="496" width="16" height="36" fill="#000"/>
<rect x="1425" y="588" width="16" height="22" fill="#000"/>
<rect x="1425" y="686" width="16" height="36" fill="#000"/>
<rect x="1425.19" y="609.57" width="15.43" height="76.54" fill="#fff" stroke="#333" stroke-width="1"/>
<line x1="1430.43" y1="609.57" x2="1430.43" y2="686.11" stroke="#585858" stroke-width="1"/>
<line x1="1435.68" y1="609.57" x2="1435.68" y2="686.11" stroke="#585858" stroke-width="1"/>
<line x1="1430.43" y1="613.27" x2="1435.68" y2="613.27" stroke="#585858" stroke-width="1"/>
<line x1="1430.43" y1="682.41" x2="1435.68" y2="682.41" stroke="#585858" stroke-width="1"/>
<line x1="1433.06" y1="613.27" x2="1433.06" y2="682.41" stroke="#585858" stroke-width="1"/>
<polygon points="1425.19,531.79 1367.16,531.79 1367.16,535.99 1425.19,535.99" fill="#fff" stroke="#1a1a1a" stroke-width="1"/>
<path d="M1367.16 535.99 A58.02 58.02 0 0 0 1425.19 589.81" fill="none" stroke="#1a1a1a" stroke-width="1"/>
<line x1="1425.19" y1="483.02" x2="1425.19" y2="491.67" stroke="#000" stroke-width="1"/>
<polygon points="1425.19,487.65 1436.19,485.15 1436.19,490.15" fill="#000"/>
<line x1="1563.15" y1="483.02" x2="1563.15" y2="491.67" stroke="#000" stroke-width="1"/>
<polygon points="1563.15,487.65 1552.15,485.15 1552.15,490.15" fill="#000"/>
<line x1="1568.7" y1="496.3" x2="1576.42" y2="496.3" stroke="#000" stroke-width="1"/>
<polygon points="1572.41,496.3 1569.91,507.3 1574.91,507.3" fill="#000"/>
<line x1="1568.7" y1="721.6" x2="1576.42" y2="721.6" stroke="#000" stroke-width="1"/>
<polygon points="1572.41,721.6 1569.91,710.6 1574.91,710.6" fill="#000"/>
<text x="1449.9" y="484.6" font-size="20" text-anchor="start">1.78 (5'10)</text>
<text x="1569.6" y="696.9" font-size="20" text-anchor="start">2.94 (9'8)</text>
<text x="1494.3" y="615.7" font-size="20" text-anchor="middle">Shed</text>
<text x="1382" y="758.6" font-size="26.67" text-anchor="start">(Not Shown In Actual</text>
<text x="1382" y="791" font-size="26.67" text-anchor="start">Location / Orientation)</text>
<rect x="1716" y="567" width="494" height="23" fill="#000"/>
<rect x="1859.33" y="566.67" width="201.67" height="23.33" fill="#fff" stroke="#333" stroke-width="1"/>
<line x1="1859.33" y1="574.13" x2="2061" y2="574.13" stroke="#585858" stroke-width="1"/>
<line x1="1859.33" y1="582.07" x2="2061" y2="582.07" stroke="#585858" stroke-width="1"/>
<line x1="1863.03" y1="574.13" x2="1863.03" y2="582.07" stroke="#585858" stroke-width="1"/>
<line x1="2057.3" y1="574.13" x2="2057.3" y2="582.07" stroke="#585858" stroke-width="1"/>
<line x1="1863.03" y1="578.1" x2="2057.3" y2="578.1" stroke="#585858" stroke-width="1"/>
<rect x="1716" y="567" width="24" height="833" fill="#000"/>
<rect x="1716" y="662.67" width="23.83" height="152.33" fill="#fff" stroke="#333" stroke-width="1"/>
<line x1="1724.1" y1="662.67" x2="1724.1" y2="815" stroke="#585858" stroke-width="1"/>
<line x1="1732.21" y1="662.67" x2="1732.21" y2="815" stroke="#585858" stroke-width="1"/>
<line x1="1724.1" y1="666.37" x2="1732.21" y2="666.37" stroke="#585858" stroke-width="1"/>
<line x1="1724.1" y1="811.3" x2="1732.21" y2="811.3" stroke="#585858" stroke-width="1"/>
<line x1="1728.15" y1="666.37" x2="1728.15" y2="811.3" stroke="#585858" stroke-width="1"/>
<rect x="1716.08" y="1344.82" width="23.71" height="45.6" fill="#fff" stroke="#333" stroke-width="1"/>
<line x1="1724.15" y1="1344.82" x2="1724.15" y2="1390.42" stroke="#585858" stroke-width="1"/>
<line x1="1732.21" y1="1344.82" x2="1732.21" y2="1390.42" stroke="#585858" stroke-width="1"/>
<line x1="1724.15" y1="1348.52" x2="1732.21" y2="1348.52" stroke="#585858" stroke-width="1"/>
<line x1="1724.15" y1="1386.72" x2="1732.21" y2="1386.72" stroke="#585858" stroke-width="1"/>
<line x1="1728.18" y1="1348.52" x2="1728.18" y2="1386.72" stroke="#585858" stroke-width="1"/>
<rect x="2187" y="567" width="23" height="833" fill="#000"/>
<rect x="2186.67" y="662.67" width="23.33" height="152.33" fill="#fff" stroke="#333" stroke-width="1"/>
<line x1="2194.6" y1="662.67" x2="2194.6" y2="815" stroke="#585858" stroke-width="1"/>
<line x1="2202.53" y1="662.67" x2="2202.53" y2="815" stroke="#585858" stroke-width="1"/>
<line x1="2194.6" y1="666.37" x2="2202.53" y2="666.37" stroke="#585858" stroke-width="1"/>
<line x1="2194.6" y1="811.3" x2="2202.53" y2="811.3" stroke="#585858" stroke-width="1"/>
<line x1="2198.57" y1="666.37" x2="2198.57" y2="811.3" stroke="#585858" stroke-width="1"/>
<rect x="2186.67" y="1235.67" width="23.33" height="76" fill="#fff" stroke="#333" stroke-width="1"/>
<line x1="2194.6" y1="1235.67" x2="2194.6" y2="1311.67" stroke="#585858" stroke-width="1"/>
<line x1="2202.53" y1="1235.67" x2="2202.53" y2="1311.67" stroke="#585858" stroke-width="1"/>
<line x1="2194.6" y1="1239.37" x2="2202.53" y2="1239.37" stroke="#585858" stroke-width="1"/>
<line x1="2194.6" y1="1307.97" x2="2202.53" y2="1307.97" stroke="#585858" stroke-width="1"/>
<line x1="2198.57" y1="1239.37" x2="2198.57" y2="1307.97" stroke="#585858" stroke-width="1"/>
<rect x="1716" y="903" width="85" height="24" fill="#000"/>
<rect x="1865" y="903" width="345" height="24" fill="#000"/>
<line x1="1800.67" y1="926.67" x2="1865" y2="926.67" stroke="#585858" stroke-width="1"/>
<rect x="1999" y="927" width="12" height="44" fill="#000"/>
<rect x="1999" y="1047" width="12" height="96" fill="#000"/>
<rect x="2010.67" y="964.33" width="138" height="88" fill="#fff" stroke="#888" stroke-width="1"/>
<polygon points="2010.67,970.67 2049,970.67 2049,974.87 2010.67,974.87" fill="#fff" stroke="#1a1a1a" stroke-width="1.5"/>
<path d="M2049 974.87 A38.33 38.33 0 0 1 2010.67 1009" fill="none" stroke="#1a1a1a" stroke-width="1.5"/>
<polygon points="2010.67,1046.67 2049,1046.67 2049,1042.47 2010.67,1042.47" fill="#fff" stroke="#1a1a1a" stroke-width="1.5"/>
<path d="M2049 1042.47 A38.33 38.33 0 0 0 2010.67 1008.33" fill="none" stroke="#1a1a1a" stroke-width="1.5"/>
<text x="2091" y="1017.3" font-size="21.33" text-anchor="middle">2.29 x 2.14</text>
<text x="2091" y="1042.3" font-size="21.33" text-anchor="middle">7'6 x 7'0</text>
<polygon points="1960,590 1957.5,601 1962.5,601" fill="#000"/>
<polygon points="1739.33,746.67 1750.33,744.17 1750.33,749.17" fill="#000"/>
<polygon points="2186.67,746.67 2175.67,744.17 2175.67,749.17" fill="#000"/>
<polygon points="1960,903.33 1957.5,892.33 1962.5,892.33" fill="#000"/>
<polygon points="1959.33,926.67 1956.83,937.67 1961.83,937.67" fill="#000"/>
<polygon points="2102.33,926.67 2099.83,937.67 2104.83,937.67" fill="#000"/>
<polygon points="2010.67,1066 2021.67,1063.5 2021.67,1068.5" fill="#000"/>
<polygon points="2186.67,1066 2175.67,1063.5 2175.67,1068.5" fill="#000"/>
<polygon points="2102.33,1090 2099.83,1079 2104.83,1079" fill="#000"/>
<text x="1962.7" y="724" font-size="26.67" text-anchor="middle">Bedroom</text>
<text x="1962.7" y="756" font-size="26.67" text-anchor="middle">5.80 x 4.08</text>
<text x="1962.7" y="788" font-size="26.67" text-anchor="middle">19'0 x 13'5</text>
<rect x="1999" y="1234" width="12" height="257" fill="#000"/>
<rect x="1999" y="1091" width="188" height="11" fill="#000"/>
<rect x="1999" y="1412" width="188" height="11" fill="#000"/>
<rect x="2187" y="1400" width="191" height="23" fill="#000"/>
<rect x="2129" y="1423" width="142" height="15" fill="#000"/>
<rect x="1716" y="1224" width="131" height="12" fill="#000"/>
<polygon points="1836.67,1224 1846.67,1224 1860,1236.67 1851,1246.67 1841.67,1235.67 1836.67,1235.67" fill="#000" stroke="#000" stroke-width="0.7"/>
<polygon points="1897.33,1281 1919.33,1304 1919.33,1327.67 1907.33,1327.67 1907.33,1308.33 1889,1288.33" fill="#000" stroke="#000" stroke-width="0.7"/>
<rect x="1716" y="1327" width="212" height="12" fill="#000"/>
<rect x="1985" y="1327" width="14" height="12" fill="#000"/>
<polygon points="1860,1239.33 1901.66,1199.94 1904.54,1202.99 1862.89,1242.38" fill="#fff" stroke="#1a1a1a" stroke-width="1"/>
<path d="M1904.54 1202.99 A57.33 57.33 0 0 1 1899.39 1280.99" fill="none" stroke="#1a1a1a" stroke-width="1"/>
<polygon points="1985,1327.67 1985,1270 1980.8,1270 1980.8,1327.67" fill="#fff" stroke="#1a1a1a" stroke-width="1"/>
<path d="M1980.8 1270 A57.67 57.67 0 0 0 1927.33 1327.67" fill="none" stroke="#1a1a1a" stroke-width="1"/>
<polygon points="2010.67,1143.33 2056.67,1143.33 2056.67,1147.53 2010.67,1147.53" fill="#fff" stroke="#1a1a1a" stroke-width="1.5"/>
<path d="M2056.67 1147.53 A46 46 0 0 1 2010.67 1189.33" fill="none" stroke="#1a1a1a" stroke-width="1.5"/>
<polygon points="2010.67,1234.33 2056.67,1234.33 2056.67,1230.13 2010.67,1230.13" fill="#fff" stroke="#1a1a1a" stroke-width="1.5"/>
<path d="M2056.67 1230.13 A46 46 0 0 0 2010.67 1188.33" fill="none" stroke="#1a1a1a" stroke-width="1.5"/>
<polygon points="1739.33,1095.33 1750.33,1092.83 1750.33,1097.83" fill="#000"/>
<polygon points="1999.33,1095.33 1988.33,1092.83 1988.33,1097.83" fill="#000"/>
<polygon points="2102.33,1090.67 2099.83,1079.67 2104.83,1079.67" fill="#000"/>
<polygon points="1959.33,1327.67 1956.83,1316.67 1961.83,1316.67" fill="#000"/>
<line x1="1955" y1="1327.67" x2="1964" y2="1327.67" stroke="#000" stroke-width="1"/>
<text x="1869.3" y="1103.3" font-size="26.67" text-anchor="middle">Dressing Room</text>
<text x="1869.3" y="1135.3" font-size="26.67" text-anchor="middle">5.18 x 3.37</text>
<text x="1869.3" y="1167.3" font-size="26.67" text-anchor="middle">17'0 x 11'1</text>
<rect x="2098.28" y="1102.56" width="87.74" height="60.79" fill="#fff" stroke="#585858" stroke-width="1"/>
<rect x="2101.48" y="1105.66" width="81.34" height="54.49" rx="3" fill="none" stroke="#585858" stroke-width="1"/>
<circle cx="2174.92" cy="1113.56" r="1.7" fill="none" stroke="#585858" stroke-width="1"/>
<line x1="2166.52" y1="1113.56" x2="2144.42" y2="1113.56" stroke="#585858" stroke-width="1"/>
<line x1="2174.92" y1="1121.96" x2="2174.92" y2="1143.86" stroke="#585858" stroke-width="1"/>
<line x1="2169.32" y1="1119.16" x2="2153.72" y2="1135.06" stroke="#585858" stroke-width="1"/>
<rect x="2142.25" y="1163.35" width="43.77" height="3.65" fill="#fff" stroke="#585858" stroke-width="1"/>
<rect x="2133.13" y="1205.1" width="52.89" height="129.08" fill="#fff" stroke="#585858" stroke-width="1"/>
<rect x="2138.4" y="1212.59" width="42.55" height="114.49" rx="21.28" fill="none" stroke="#585858" stroke-width="1"/>
<path d="M2145.29 1232.86 A14.18 14.18 0 0 1 2173.66 1232.86" fill="none" stroke="#585858" stroke-width="1"/>
<path d="M2145.29 1305.81 A14.18 14.18 0 0 0 2173.66 1305.81" fill="none" stroke="#585858" stroke-width="1"/>
<rect x="2151.28" y="1208.05" width="2.2" height="2.2" fill="none" stroke="#585858" stroke-width="1"/>
<rect x="2158.58" y="1208.05" width="2.2" height="2.2" fill="none" stroke="#585858" stroke-width="1"/>
<rect x="2165.06" y="1208.05" width="2.2" height="2.2" fill="none" stroke="#585858" stroke-width="1"/>
<line x1="2159.68" y1="1209.55" x2="2159.68" y2="1216.04" stroke="#585858" stroke-width="1.8"/>
<circle cx="2159.68" cy="1224.75" r="2.2" fill="none" stroke="#585858" stroke-width="1"/>
<rect x="2010.54" y="1259.81" width="38.1" height="46.4" fill="#fff" stroke="#585858" stroke-width="1"/>
<g transform="translate(2011.95 1283.01) rotate(-90) scale(1)" fill="none" stroke="#585858" stroke-width="1">
<path d="M-17.3 0.8 L-17.3 12 A17.3 18 0 0 0 17.3 12 L17.3 0.8 Z" fill="#fff"/>
<ellipse cx="0" cy="15.4" rx="15" ry="11.8"/>
<circle cx="-7.5" cy="4.4" r="1.1" stroke-width="1.2" stroke="#444"/>
<circle cx="0" cy="4.4" r="1.1" stroke-width="1.2" stroke="#444"/>
<circle cx="7.5" cy="4.4" r="1.1" stroke-width="1.2" stroke="#444"/>
<line x1="0" y1="4.4" x2="0" y2="10.5" stroke-width="1.6"/>
<circle cx="0" cy="15.8" r="1.1" stroke-width="1.2" stroke="#444"/>
</g>
<rect x="2010.54" y="1313.3" width="38.1" height="46.2" fill="#fff" stroke="#585858" stroke-width="1"/>
<g transform="translate(2011.95 1336.4) rotate(-90) scale(1)" fill="none" stroke="#585858" stroke-width="1">
<path d="M-17.3 0.8 L-17.3 12 A17.3 18 0 0 0 17.3 12 L17.3 0.8 Z" fill="#fff"/>
<ellipse cx="0" cy="15.4" rx="15" ry="11.8"/>
<circle cx="-7.5" cy="4.4" r="1.1" stroke-width="1.2" stroke="#444"/>
<circle cx="0" cy="4.4" r="1.1" stroke-width="1.2" stroke="#444"/>
<circle cx="7.5" cy="4.4" r="1.1" stroke-width="1.2" stroke="#444"/>
<line x1="0" y1="4.4" x2="0" y2="10.5" stroke-width="1.6"/>
<circle cx="0" cy="15.8" r="1.1" stroke-width="1.2" stroke="#444"/>
</g>
<g transform="translate(2073.56 1400.03) rotate(180)" fill="#fff" stroke="#585858" stroke-width="1">
<ellipse cx="0" cy="22.3" rx="14.2" ry="17.8"/>
<rect x="-11.1" y="0" width="22.2" height="6.1"/>
<path d="M-11.1 5.4 C-5 7.2 5 7.2 11.1 5.4" fill="none"/>
</g>
<line x1="2010.54" y1="1400.03" x2="2186.02" y2="1400.03" stroke="#585858" stroke-width="1"/>
<path d="M2129 1438.33 L2129 1461.67 A91.93 91.93 0 0 0 2270.67 1461.67 L2270.67 1438.33" fill="none" stroke="#585858" stroke-width="1"/>
<path d="M2153.67 1464 C2153.67 1447 2174.67 1437.5 2202.67 1437.5 C2230.67 1437.5 2251.67 1447 2251.67 1464 C2251.67 1483 2226.67 1491 2200.67 1491 C2174.67 1491 2153.67 1483 2153.67 1464 Z" fill="#fff" stroke="#111" stroke-width="1.3"/>
<circle cx="2205" cy="1463.33" r="1.7" fill="none" stroke="#111" stroke-width="1"/>
<path d="M1907.6 1339.52 L1907.6 1560.38" fill="none" stroke="#585858" stroke-width="1"/>
<path d="M1911.42 1339.52 L1911.42 1560.38 L1739.8 1560.38" fill="none" stroke="#585858" stroke-width="1"/>
<line x1="1739.8" y1="1407.5" x2="1907.6" y2="1407.5" stroke="#585858" stroke-width="1"/>
<line x1="1739.8" y1="1426.57" x2="1808.61" y2="1426.57" stroke="#585858" stroke-width="1"/>
<line x1="1739.8" y1="1446.3" x2="1808.61" y2="1446.3" stroke="#585858" stroke-width="1"/>
<line x1="1739.8" y1="1465.37" x2="1808.61" y2="1465.37" stroke="#585858" stroke-width="1"/>
<line x1="1739.8" y1="1484.11" x2="1808.61" y2="1484.11" stroke="#585858" stroke-width="1"/>
<line x1="1739.8" y1="1484.11" x2="1808.61" y2="1503.51" stroke="#585858" stroke-width="1"/>
<path d="M1808.61 1407.5 L1808.61 1503.51 L1812.42 1503.51 L1812.42 1411.15 L1834.64 1411.15 L1834.64 1556.57 L1739.8 1556.57" fill="none" stroke="#585858" stroke-width="1"/>
<line x1="1838.46" y1="1407.5" x2="1838.46" y2="1560.38" stroke="#585858" stroke-width="1"/>
<line x1="1838.46" y1="1426.57" x2="1907.6" y2="1426.57" stroke="#585858" stroke-width="1"/>
<line x1="1838.46" y1="1446.3" x2="1907.6" y2="1446.3" stroke="#585858" stroke-width="1"/>
<line x1="1838.46" y1="1465.37" x2="1907.6" y2="1465.37" stroke="#585858" stroke-width="1"/>
<line x1="1838.46" y1="1484.11" x2="1907.6" y2="1484.11" stroke="#585858" stroke-width="1"/>
<line x1="1838.46" y1="1503.51" x2="1907.6" y2="1503.51" stroke="#585858" stroke-width="1"/>
<line x1="1838.46" y1="1522.24" x2="1907.6" y2="1522.24" stroke="#585858" stroke-width="1"/>
<line x1="1838.46" y1="1541.31" x2="1907.6" y2="1541.31" stroke="#585858" stroke-width="1"/>
<rect x="1269" y="1400" width="24" height="497" fill="#000"/>
<rect x="1269" y="1400" width="471" height="23" fill="#000"/>
<rect x="1447.67" y="1400" width="145" height="23.33" fill="#fff" stroke="#333" stroke-width="1"/>
<line x1="1447.67" y1="1407.47" x2="1592.67" y2="1407.47" stroke="#585858" stroke-width="1"/>
<line x1="1447.67" y1="1415.4" x2="1592.67" y2="1415.4" stroke="#585858" stroke-width="1"/>
<line x1="1451.37" y1="1407.47" x2="1451.37" y2="1415.4" stroke="#585858" stroke-width="1"/>
<line x1="1588.97" y1="1407.47" x2="1588.97" y2="1415.4" stroke="#585858" stroke-width="1"/>
<line x1="1451.37" y1="1411.43" x2="1588.97" y2="1411.43" stroke="#585858" stroke-width="1"/>
<rect x="1269" y="1873" width="1109" height="24" fill="#000"/>
<rect x="1392.33" y="1873.33" width="76" height="23.33" fill="#fff" stroke="#333" stroke-width="1"/>
<line x1="1392.33" y1="1880.8" x2="1468.33" y2="1880.8" stroke="#585858" stroke-width="1"/>
<line x1="1392.33" y1="1888.73" x2="1468.33" y2="1888.73" stroke="#585858" stroke-width="1"/>
<line x1="1396.03" y1="1880.8" x2="1396.03" y2="1888.73" stroke="#585858" stroke-width="1"/>
<line x1="1464.63" y1="1880.8" x2="1464.63" y2="1888.73" stroke="#585858" stroke-width="1"/>
<line x1="1396.03" y1="1884.77" x2="1464.63" y2="1884.77" stroke="#585858" stroke-width="1"/>
<rect x="1607.33" y="1873.33" width="76" height="23.33" fill="#fff" stroke="#333" stroke-width="1"/>
<line x1="1607.33" y1="1880.8" x2="1683.33" y2="1880.8" stroke="#585858" stroke-width="1"/>
<line x1="1607.33" y1="1888.73" x2="1683.33" y2="1888.73" stroke="#585858" stroke-width="1"/>
<line x1="1611.03" y1="1880.8" x2="1611.03" y2="1888.73" stroke="#585858" stroke-width="1"/>
<line x1="1679.63" y1="1880.8" x2="1679.63" y2="1888.73" stroke="#585858" stroke-width="1"/>
<line x1="1611.03" y1="1884.77" x2="1679.63" y2="1884.77" stroke="#585858" stroke-width="1"/>
<rect x="1779.33" y="1873.33" width="76.67" height="23.33" fill="#fff" stroke="#333" stroke-width="1"/>
<line x1="1779.33" y1="1880.8" x2="1856" y2="1880.8" stroke="#585858" stroke-width="1"/>
<line x1="1779.33" y1="1888.73" x2="1856" y2="1888.73" stroke="#585858" stroke-width="1"/>
<line x1="1783.03" y1="1880.8" x2="1783.03" y2="1888.73" stroke="#585858" stroke-width="1"/>
<line x1="1852.3" y1="1880.8" x2="1852.3" y2="1888.73" stroke="#585858" stroke-width="1"/>
<line x1="1783.03" y1="1884.77" x2="1852.3" y2="1884.77" stroke="#585858" stroke-width="1"/>
<rect x="1947.67" y="1873.33" width="76.33" height="23.33" fill="#fff" stroke="#333" stroke-width="1"/>
<line x1="1947.67" y1="1880.8" x2="2024" y2="1880.8" stroke="#585858" stroke-width="1"/>
<line x1="1947.67" y1="1888.73" x2="2024" y2="1888.73" stroke="#585858" stroke-width="1"/>
<line x1="1951.37" y1="1880.8" x2="1951.37" y2="1888.73" stroke="#585858" stroke-width="1"/>
<line x1="2020.3" y1="1880.8" x2="2020.3" y2="1888.73" stroke="#585858" stroke-width="1"/>
<line x1="1951.37" y1="1884.77" x2="2020.3" y2="1884.77" stroke="#585858" stroke-width="1"/>
<rect x="2200" y="1873.33" width="76" height="23.33" fill="#fff" stroke="#333" stroke-width="1"/>
<line x1="2200" y1="1880.8" x2="2276" y2="1880.8" stroke="#585858" stroke-width="1"/>
<line x1="2200" y1="1888.73" x2="2276" y2="1888.73" stroke="#585858" stroke-width="1"/>
<line x1="2203.7" y1="1880.8" x2="2203.7" y2="1888.73" stroke="#585858" stroke-width="1"/>
<line x1="2272.3" y1="1880.8" x2="2272.3" y2="1888.73" stroke="#585858" stroke-width="1"/>
<line x1="2203.7" y1="1884.77" x2="2272.3" y2="1884.77" stroke="#585858" stroke-width="1"/>
<rect x="1728" y="1423" width="12" height="150" fill="#000"/>
<polygon points="1727.67,1571.67 1740,1571.67 1740,1577.33 1731.67,1585.67 1722.67,1577.33" fill="#000" stroke="#000" stroke-width="0.7"/>
<rect x="1269" y="1633" width="408" height="12" fill="#000"/>
<polygon points="1676,1633.33 1680.67,1629.33 1687.33,1636.67 1683.33,1640 1692.33,1645.67 1685,1654 1676,1645" fill="#000" stroke="#000" stroke-width="0.7"/>
<rect x="1372" y="1423" width="13" height="76" fill="#000"/>
<rect x="1372" y="1488" width="58" height="11" fill="#000"/>
<rect x="1419" y="1488" width="11" height="51" fill="#000"/>
<rect x="1419" y="1596" width="11" height="37" fill="#000"/>
<rect x="1426" y="1423" width="4" height="7" fill="#000"/>
<rect x="1426" y="1479" width="4" height="9" fill="#000"/>
<rect x="1418" y="1645" width="12" height="157" fill="#000"/>
<rect x="1269" y="1790" width="84" height="12" fill="#000"/>
<rect x="1410" y="1790" width="20" height="12" fill="#000"/>
<rect x="1342" y="1802" width="4" height="11" fill="#000"/>
<rect x="1342" y="1862" width="4" height="11" fill="#000"/>
<path d="M1346 1812.67 L1362.67 1815 L1346 1862.67" fill="none" stroke="#1a1a1a" stroke-width="1"/>
<line x1="1347.33" y1="1826.67" x2="1347.33" y2="1833.33" stroke="#000" stroke-width="1"/>
<polygon points="1347.33,1830 1358.33,1827.5 1358.33,1832.5" fill="#000"/>
<rect x="1728" y="1698" width="12" height="175" fill="#000"/>
<rect x="1727" y="1687" width="61" height="11" fill="#000"/>
<polygon points="1721.67,1692.33 1730,1683.33 1735,1686.67 1727.67,1698.33" fill="#000" stroke="#000" stroke-width="0.7"/>
<rect x="1847" y="1687" width="210" height="11" fill="#000"/>
<polygon points="1418.59,1539.22 1361.09,1539.22 1361.09,1543.42 1418.59,1543.42" fill="#fff" stroke="#1a1a1a" stroke-width="1"/>
<path d="M1361.09 1543.42 A57.5 57.5 0 0 0 1418.59 1596.73" fill="none" stroke="#1a1a1a" stroke-width="1"/>
<polygon points="1725,1578.33 1700.02,1555.52 1697.18,1558.62 1722.17,1581.43" fill="#fff" stroke="#1a1a1a" stroke-width="1"/>
<path d="M1697.18 1558.62 A33.83 33.83 0 0 0 1702.19 1603.32" fill="none" stroke="#1a1a1a" stroke-width="1"/>
<polygon points="1679.33,1628.33 1654.35,1605.52 1657.18,1602.42 1682.17,1625.23" fill="#fff" stroke="#1a1a1a" stroke-width="1"/>
<path d="M1657.18 1602.42 A33.83 33.83 0 0 1 1702.15 1603.35" fill="none" stroke="#1a1a1a" stroke-width="1"/>
<polygon points="1685,1653.33 1664.97,1671.69 1667.81,1674.78 1687.84,1656.43" fill="#fff" stroke="#1a1a1a" stroke-width="1"/>
<path d="M1667.81 1674.78 A27.17 27.17 0 0 0 1703.35 1673.36" fill="none" stroke="#1a1a1a" stroke-width="1"/>
<polygon points="1721.67,1693.33 1701.64,1711.69 1698.8,1708.59 1718.83,1690.24" fill="#fff" stroke="#1a1a1a" stroke-width="1"/>
<path d="M1698.8 1708.59 A27.17 27.17 0 0 1 1703.31 1673.3" fill="none" stroke="#1a1a1a" stroke-width="1"/>
<polygon points="1788.33,1698.33 1788.33,1755.67 1792.53,1755.67 1792.53,1698.33" fill="#fff" stroke="#1a1a1a" stroke-width="1"/>
<path d="M1792.53 1755.67 A57.33 57.33 0 0 0 1845.67 1698.33" fill="none" stroke="#1a1a1a" stroke-width="1"/>
<polygon points="1410,1790 1410,1732.33 1405.8,1732.33 1405.8,1790" fill="#fff" stroke="#1a1a1a" stroke-width="1"/>
<path d="M1405.8 1732.33 A57.67 57.67 0 0 0 1352.33 1790" fill="none" stroke="#1a1a1a" stroke-width="1"/>
<rect x="1292.72" y="1423.47" width="79.42" height="71.74" fill="#fff" stroke="#585858" stroke-width="1"/>
<rect x="1295.92" y="1426.57" width="73.02" height="65.44" rx="3" fill="none" stroke="#585858" stroke-width="1"/>
<circle cx="1361.04" cy="1434.47" r="1.7" fill="none" stroke="#585858" stroke-width="1"/>
<line x1="1352.64" y1="1434.47" x2="1330.54" y2="1434.47" stroke="#585858" stroke-width="1"/>
<line x1="1361.04" y1="1442.87" x2="1361.04" y2="1464.77" stroke="#585858" stroke-width="1"/>
<line x1="1355.44" y1="1440.07" x2="1339.84" y2="1455.97" stroke="#585858" stroke-width="1"/>
<rect x="1292.72" y="1495.21" width="79.42" height="3.75" fill="#fff" stroke="#585858" stroke-width="1"/>
<path d="M1325.31 1499.33 L1361.84 1510.19 L1362.96 1496.14" fill="none" stroke="#1a1a1a" stroke-width="1"/>
<path d="M1429.83 1429.09 L1444.44 1430.96 L1429.45 1478.91" fill="none" stroke="#1a1a1a" stroke-width="1"/>
<g transform="translate(1320.63 1632.88) rotate(180) scale(1)" fill="#fff" stroke="#585858" stroke-width="1">
<path d="M-10.9 13.4 L-10.9 18.4 C-12.6 19.6 -14.6 26 -14.4 35 C-14.2 45.5 -8 52.8 0 52.8 C8 52.8 14.2 45.5 14.4 35 C14.6 26 12.6 19.6 10.9 18.4 L10.9 13.4 Z"/>
<path d="M-10.9 15.4 C-5 16.6 5 16.6 10.9 15.4 M-10.9 18.4 C-5 19.8 5 19.8 10.9 18.4" fill="none"/>
<path d="M-15.25 0 L-15.25 11 Q-15.25 13.4 -12.8 13.4 L12.8 13.4 Q15.25 13.4 15.25 11 L15.25 0" />
<circle cx="0" cy="6" r="1.6"/>
</g>
<rect x="1355.28" y="1601.97" width="46.08" height="30.91" fill="#fff" stroke="#585858" stroke-width="1"/>
<rect x="1358.28" y="1605.16" width="40.65" height="20.6" fill="none" stroke="#585858" stroke-width="1"/>
<circle cx="1378.32" cy="1615.08" r="1.3" fill="none" stroke="#585858" stroke-width="1"/>
<circle cx="1370.45" cy="1627.63" r="1.3" fill="none" stroke="#585858" stroke-width="1"/>
<circle cx="1385.81" cy="1627.63" r="1.3" fill="none" stroke="#585858" stroke-width="1"/>
<line x1="1378.32" y1="1621.64" x2="1378.32" y2="1628.38" stroke="#585858" stroke-width="1.8"/>
<rect x="1303.4" y="1644.49" width="104.33" height="38.02" fill="#fff" stroke="#585858" stroke-width="1"/>
<g transform="translate(1327.19 1645.61) rotate(0) scale(1)" fill="none" stroke="#585858" stroke-width="1">
<path d="M-17.3 0.8 L-17.3 12 A17.3 18 0 0 0 17.3 12 L17.3 0.8 Z" fill="#fff"/>
<ellipse cx="0" cy="15.4" rx="15" ry="11.8"/>
<circle cx="-7.5" cy="4.4" r="1.1" stroke-width="1.2" stroke="#444"/>
<circle cx="0" cy="4.4" r="1.1" stroke-width="1.2" stroke="#444"/>
<circle cx="7.5" cy="4.4" r="1.1" stroke-width="1.2" stroke="#444"/>
<line x1="0" y1="4.4" x2="0" y2="10.5" stroke-width="1.6"/>
<circle cx="0" cy="15.8" r="1.1" stroke-width="1.2" stroke="#444"/>
</g>
<g transform="translate(1382.44 1645.61) rotate(0) scale(1)" fill="none" stroke="#585858" stroke-width="1">
<path d="M-17.3 0.8 L-17.3 12 A17.3 18 0 0 0 17.3 12 L17.3 0.8 Z" fill="#fff"/>
<ellipse cx="0" cy="15.4" rx="15" ry="11.8"/>
<circle cx="-7.5" cy="4.4" r="1.1" stroke-width="1.2" stroke="#444"/>
<circle cx="0" cy="4.4" r="1.1" stroke-width="1.2" stroke="#444"/>
<circle cx="7.5" cy="4.4" r="1.1" stroke-width="1.2" stroke="#444"/>
<line x1="0" y1="4.4" x2="0" y2="10.5" stroke-width="1.6"/>
<circle cx="0" cy="15.8" r="1.1" stroke-width="1.2" stroke="#444"/>
</g>
<g transform="translate(1292.67 1755) rotate(-90) scale(1)" fill="#fff" stroke="#585858" stroke-width="1">
<path d="M-10.9 13.4 L-10.9 18.4 C-12.6 19.6 -14.6 26 -14.4 35 C-14.2 45.5 -8 52.8 0 52.8 C8 52.8 14.2 45.5 14.4 35 C14.6 26 12.6 19.6 10.9 18.4 L10.9 13.4 Z"/>
<path d="M-10.9 15.4 C-5 16.6 5 16.6 10.9 15.4 M-10.9 18.4 C-5 19.8 5 19.8 10.9 18.4" fill="none"/>
<path d="M-15.25 0 L-15.25 11 Q-15.25 13.4 -12.8 13.4 L12.8 13.4 Q15.25 13.4 15.25 11 L15.25 0" />
<circle cx="0" cy="6" r="1.6"/>
</g>
<polygon points="1541,1423.33 1538.5,1434.33 1543.5,1434.33" fill="#000"/>
<polygon points="1430,1522.33 1441,1519.83 1441,1524.83" fill="#000"/>
<polygon points="1727.67,1522.33 1716.67,1519.83 1716.67,1524.83" fill="#000"/>
<polygon points="1541,1633.33 1538.5,1622.33 1543.5,1622.33" fill="#000"/>
<polygon points="1541,1645 1538.5,1656 1543.5,1656" fill="#000"/>
<polygon points="1541,1873.33 1538.5,1862.33 1543.5,1862.33" fill="#000"/>
<polygon points="1727.67,1830 1716.67,1827.5 1716.67,1832.5" fill="#000"/>
<polygon points="1740,1756.67 1751,1754.17 1751,1759.17" fill="#000"/>
<polygon points="1896,1698.33 1893.5,1709.33 1898.5,1709.33" fill="#000"/>
<polygon points="1896,1873.33 1893.5,1862.33 1898.5,1862.33" fill="#000"/>
<text x="1578.3" y="1506" font-size="26.67" text-anchor="middle">Bedroom</text>
<text x="1578.3" y="1538" font-size="26.67" text-anchor="middle">3.99 x 2.64</text>
<text x="1578.3" y="1570" font-size="26.67" text-anchor="middle">13'1 x 8'8</text>
<text x="1578.3" y="1736.7" font-size="26.67" text-anchor="middle">Bedroom</text>
<text x="1578.3" y="1768.7" font-size="26.67" text-anchor="middle">4.99 x 3.02</text>
<text x="1578.3" y="1800.7" font-size="26.67" text-anchor="middle">16'4 x 9'11</text>
<text x="1892.3" y="1763.3" font-size="26.67" text-anchor="middle">Bedroom</text>
<text x="1892.3" y="1795.3" font-size="26.67" text-anchor="middle">3.99 x 2.18</text>
<text x="1892.3" y="1827.3" font-size="26.67" text-anchor="middle">13'1 x 7'2</text>
<rect x="2354" y="1400" width="24" height="497" fill="#000"/>
<rect x="2354.33" y="1482.67" width="23.33" height="76.33" fill="#fff" stroke="#333" stroke-width="1"/>
<line x1="2362.27" y1="1482.67" x2="2362.27" y2="1559" stroke="#585858" stroke-width="1"/>
<line x1="2370.2" y1="1482.67" x2="2370.2" y2="1559" stroke="#585858" stroke-width="1"/>
<line x1="2362.27" y1="1486.37" x2="2370.2" y2="1486.37" stroke="#585858" stroke-width="1"/>
<line x1="2362.27" y1="1555.3" x2="2370.2" y2="1555.3" stroke="#585858" stroke-width="1"/>
<line x1="2366.23" y1="1486.37" x2="2366.23" y2="1555.3" stroke="#585858" stroke-width="1"/>
<rect x="2354.33" y="1757.67" width="23.33" height="75.67" fill="#fff" stroke="#333" stroke-width="1"/>
<line x1="2362.27" y1="1757.67" x2="2362.27" y2="1833.33" stroke="#585858" stroke-width="1"/>
<line x1="2370.2" y1="1757.67" x2="2370.2" y2="1833.33" stroke="#585858" stroke-width="1"/>
<line x1="2362.27" y1="1761.37" x2="2370.2" y2="1761.37" stroke="#585858" stroke-width="1"/>
<line x1="2362.27" y1="1829.63" x2="2370.2" y2="1829.63" stroke="#585858" stroke-width="1"/>
<line x1="2366.23" y1="1761.37" x2="2366.23" y2="1829.63" stroke="#585858" stroke-width="1"/>
<rect x="2187" y="1400" width="191" height="23" fill="#000"/>
<rect x="1999" y="1412" width="188" height="11" fill="#000"/>
<rect x="1999" y="1548" width="12" height="28" fill="#000"/>
<rect x="1999" y="1564" width="52" height="12" fill="#000"/>
<polygon points="2046.67,1564.33 2053.33,1564.33 2117.33,1629 2133.33,1629 2133.33,1640.67 2117.33,1640.67 2106.67,1653.33 2096.67,1645 2106.67,1635 2048.33,1575.67 2046.67,1575.67" fill="#000" stroke="#000" stroke-width="0.7"/>
<rect x="2130" y="1629" width="147" height="12" fill="#000"/>
<rect x="2333" y="1629" width="21" height="12" fill="#000"/>
<rect x="2045" y="1698" width="12" height="175" fill="#000"/>
<polygon points="2045,1686.67 2053.33,1684 2063.33,1692.67 2056.67,1699 2045,1699" fill="#000" stroke="#000" stroke-width="0.7"/>
<rect x="2045" y="1824" width="31" height="12" fill="#000"/>
<rect x="2126" y="1824" width="34" height="12" fill="#000"/>
<rect x="2148" y="1824" width="12" height="49" fill="#000"/>
<polygon points="2011,1548.33 2067.67,1548.33 2067.67,1544.13 2011,1544.13" fill="#fff" stroke="#1a1a1a" stroke-width="1"/>
<path d="M2067.67 1544.13 A56.67 56.67 0 0 0 2011 1491.67" fill="none" stroke="#1a1a1a" stroke-width="1"/>
<polygon points="2332.67,1629 2332.67,1571.67 2328.47,1571.67 2328.47,1629" fill="#fff" stroke="#1a1a1a" stroke-width="1"/>
<path d="M2328.47 1571.67 A57.33 57.33 0 0 0 2275.33 1629" fill="none" stroke="#1a1a1a" stroke-width="1"/>
<polygon points="2062.33,1692.67 2102.64,1733.68 2105.63,1730.73 2065.33,1689.72" fill="#fff" stroke="#1a1a1a" stroke-width="1"/>
<path d="M2105.63 1730.73 A57.5 57.5 0 0 0 2102.64 1651.65" fill="none" stroke="#1a1a1a" stroke-width="1"/>
<path d="M2075.67 1824.33 L2122.67 1807.67 L2125.67 1824.33" fill="none" stroke="#1a1a1a" stroke-width="1"/>
<rect x="2148.33" y="1583.33" width="99.33" height="45.67" fill="#fff" stroke="#585858" stroke-width="1"/>
<g transform="translate(2172.67 1618) rotate(180) scale(1.05)" fill="none" stroke="#585858" stroke-width="1">
<path d="M-17.3 0.8 L-17.3 12 A17.3 18 0 0 0 17.3 12 L17.3 0.8 Z" fill="#fff"/>
<ellipse cx="0" cy="15.4" rx="15" ry="11.8"/>
<circle cx="-7.5" cy="4.4" r="1.1" stroke-width="1.2" stroke="#444"/>
<circle cx="0" cy="4.4" r="1.1" stroke-width="1.2" stroke="#444"/>
<circle cx="7.5" cy="4.4" r="1.1" stroke-width="1.2" stroke="#444"/>
<line x1="0" y1="4.4" x2="0" y2="10.5" stroke-width="1.6"/>
<circle cx="0" cy="15.8" r="1.1" stroke-width="1.2" stroke="#444"/>
</g>
<g transform="translate(2222.33 1618) rotate(180) scale(1.05)" fill="none" stroke="#585858" stroke-width="1">
<path d="M-17.3 0.8 L-17.3 12 A17.3 18 0 0 0 17.3 12 L17.3 0.8 Z" fill="#fff"/>
<ellipse cx="0" cy="15.4" rx="15" ry="11.8"/>
<circle cx="-7.5" cy="4.4" r="1.1" stroke-width="1.2" stroke="#444"/>
<circle cx="0" cy="4.4" r="1.1" stroke-width="1.2" stroke="#444"/>
<circle cx="7.5" cy="4.4" r="1.1" stroke-width="1.2" stroke="#444"/>
<line x1="0" y1="4.4" x2="0" y2="10.5" stroke-width="1.6"/>
<circle cx="0" cy="15.8" r="1.1" stroke-width="1.2" stroke="#444"/>
</g>
<polygon points="2203.33,1640.67 2200.83,1651.67 2205.83,1651.67" fill="#000"/>
<polygon points="2203.33,1873.33 2200.83,1862.33 2205.83,1862.33" fill="#000"/>
<polygon points="2045,1756.67 2034,1754.17 2034,1759.17" fill="#000"/>
<polygon points="2056.67,1756.67 2067.67,1754.17 2067.67,1759.17" fill="#000"/>
<polygon points="2354.33,1756.67 2343.33,1754.17 2343.33,1759.17" fill="#000"/>
<text x="2205.7" y="1734.3" font-size="26.67" text-anchor="middle">Bedroom</text>
<text x="2205.7" y="1766.3" font-size="26.67" text-anchor="middle">3.88 x 3.18</text>
<text x="2205.7" y="1798.3" font-size="26.67" text-anchor="middle">12'9 x 10'5</text>
<rect x="2691" y="371" width="322" height="24" fill="#000"/>
<rect x="2691" y="371" width="12.5" height="628" fill="#000"/>
<rect x="3001" y="371" width="12" height="628" fill="#000"/>
<rect x="2691" y="987" width="322" height="12" fill="#000"/>
<rect x="2814.29" y="986.77" width="76.04" height="12.17" fill="#fff" stroke="#333" stroke-width="1"/>
<line x1="2814.29" y1="990.67" x2="2890.32" y2="990.67" stroke="#585858" stroke-width="1"/>
<line x1="2814.29" y1="994.8" x2="2890.32" y2="994.8" stroke="#585858" stroke-width="1"/>
<line x1="2817.99" y1="990.67" x2="2817.99" y2="994.8" stroke="#585858" stroke-width="1"/>
<line x1="2886.62" y1="990.67" x2="2886.62" y2="994.8" stroke="#585858" stroke-width="1"/>
<line x1="2817.99" y1="992.74" x2="2886.62" y2="992.74" stroke="#585858" stroke-width="1"/>
<rect x="2691" y="662" width="121" height="23" fill="#000"/>
<rect x="2884" y="662" width="129" height="6" fill="#000"/>
<rect x="2884" y="679" width="129" height="6" fill="#000"/>
<rect x="2929" y="662" width="84" height="23" fill="#000"/>
<rect x="2864.2" y="671.34" width="58.46" height="3.87" fill="#fff" stroke="#333" stroke-width="1"/>
<line x1="2841.67" y1="667.69" x2="2863.72" y2="667.69" stroke="#000" stroke-width="1"/>
<polygon points="2833.67,667.69 2844.67,665.39 2844.67,669.99" fill="#000"/>
<polygon points="2871.72,667.69 2860.72,665.39 2860.72,669.99" fill="#000"/>
<line x1="2794.77" y1="394.71" x2="2794.77" y2="467.14" stroke="#585858" stroke-width="1"/>
<line x1="2814.33" y1="394.71" x2="2814.33" y2="467.14" stroke="#585858" stroke-width="1"/>
<line x1="2833.46" y1="394.71" x2="2833.46" y2="467.14" stroke="#585858" stroke-width="1"/>
<line x1="2852.8" y1="394.71" x2="2852.8" y2="467.14" stroke="#585858" stroke-width="1"/>
<line x1="2871.72" y1="394.71" x2="2871.72" y2="467.14" stroke="#585858" stroke-width="1"/>
<line x1="2890.63" y1="394.71" x2="2890.63" y2="467.14" stroke="#585858" stroke-width="1"/>
<line x1="2909.55" y1="394.71" x2="2909.55" y2="467.14" stroke="#585858" stroke-width="1"/>
<line x1="2909.55" y1="394.71" x2="2928.68" y2="467.14" stroke="#585858" stroke-width="1"/>
<path d="M3001.12 467.14 L2794.77 467.14 L2794.77 471.44 L3001.12 471.44" fill="none" stroke="#585858" stroke-width="1"/>
<rect x="2710.08" y="541.3" width="69.64" height="46.86" fill="#fff" stroke="#585858" stroke-width="1"/>
<line x1="2710.08" y1="541.9" x2="2779.12" y2="564.73" stroke="#585858" stroke-width="1"/>
<line x1="2710.08" y1="587.56" x2="2779.12" y2="564.73" stroke="#585858" stroke-width="1"/>
<rect x="2927.18" y="541.3" width="69.64" height="46.86" fill="#fff" stroke="#585858" stroke-width="1"/>
<line x1="2927.18" y1="541.9" x2="2996.22" y2="564.73" stroke="#585858" stroke-width="1"/>
<line x1="2927.18" y1="587.56" x2="2996.22" y2="564.73" stroke="#585858" stroke-width="1"/>
<rect x="2710.32" y="691.47" width="69.12" height="47" fill="#fff" stroke="#585858" stroke-width="1"/>
<line x1="2710.32" y1="692.07" x2="2778.85" y2="714.98" stroke="#585858" stroke-width="1"/>
<line x1="2710.32" y1="737.88" x2="2778.85" y2="714.98" stroke="#585858" stroke-width="1"/>
<rect x="2927.37" y="691.47" width="69.12" height="47" fill="#fff" stroke="#585858" stroke-width="1"/>
<line x1="2927.37" y1="692.07" x2="2995.9" y2="714.98" stroke="#585858" stroke-width="1"/>
<line x1="2927.37" y1="737.88" x2="2995.9" y2="714.98" stroke="#585858" stroke-width="1"/>
<rect x="2710.32" y="854.61" width="69.12" height="47" fill="#fff" stroke="#585858" stroke-width="1"/>
<line x1="2710.32" y1="855.21" x2="2778.85" y2="878.11" stroke="#585858" stroke-width="1"/>
<line x1="2710.32" y1="901.01" x2="2778.85" y2="878.11" stroke="#585858" stroke-width="1"/>
<rect x="2927.37" y="854.61" width="69.12" height="47" fill="#fff" stroke="#585858" stroke-width="1"/>
<line x1="2927.37" y1="855.21" x2="2995.9" y2="878.11" stroke="#585858" stroke-width="1"/>
<line x1="2927.37" y1="901.01" x2="2995.9" y2="878.11" stroke="#585858" stroke-width="1"/>
<polygon points="2782.52,394.71 2780.02,405.71 2785.02,405.71" fill="#000"/>
<polygon points="2703.63,528.19 2714.63,525.69 2714.63,530.69" fill="#000"/>
<polygon points="3001.12,528.19 2990.12,525.69 2990.12,530.69" fill="#000"/>
<polygon points="2782.52,662.1 2780.02,651.1 2785.02,651.1" fill="#000"/>
<polygon points="2782.52,684.88 2780.02,695.88 2785.02,695.88" fill="#000"/>
<polygon points="2703.41,835.81 2714.41,833.31 2714.41,838.31" fill="#000"/>
<polygon points="3000.92,835.81 2989.92,833.31 2989.92,838.31" fill="#000"/>
<polygon points="2783.04,986.77 2780.54,975.77 2785.54,975.77" fill="#000"/>
<text x="2852.4" y="505.2" font-size="26.67" text-anchor="middle">Sitting Room</text>
<text x="2852.4" y="537.2" font-size="26.67" text-anchor="middle">3.81 x 3.51</text>
<text x="2852.4" y="569.2" font-size="26.67" text-anchor="middle">12'6 x 11'6</text>
<text x="2852.2" y="812.3" font-size="26.67" text-anchor="middle">Bedroom</text>
<text x="2852.2" y="844.3" font-size="26.67" text-anchor="middle">3.99 x 3.88</text>
<text x="2852.2" y="876.3" font-size="26.67" text-anchor="middle">13'1 x 12'9</text>
<rect x="2573" y="1270" width="559" height="23" fill="#000"/>
<rect x="2573" y="1270" width="24" height="626" fill="#000"/>
<rect x="3108" y="1270" width="24" height="84" fill="#000"/>
<rect x="3108" y="1418" width="24" height="91" fill="#000"/>
<rect x="2573" y="1438" width="419" height="12" fill="#000"/>
<rect x="3049" y="1438" width="83" height="12" fill="#000"/>
<rect x="2779.5" y="1450" width="12" height="423" fill="#000"/>
<rect x="2836" y="1450" width="89" height="18" fill="#000"/>
<rect x="2684" y="1293" width="39" height="16" fill="#000"/>
<rect x="2711" y="1309" width="12" height="76" fill="#000"/>
<rect x="2711" y="1369" width="81" height="12" fill="#000"/>
<rect x="2779" y="1358" width="13" height="27" fill="#000"/>
<rect x="2779" y="1358" width="24" height="12" fill="#000"/>
<rect x="2711" y="1434" width="12" height="4" fill="#000"/>
<rect x="2779" y="1434" width="13" height="4" fill="#000"/>
<line x1="2791.52" y1="1384.78" x2="2791.52" y2="1434.42" stroke="#333" stroke-width="1"/>
<rect x="2860" y="1358" width="77" height="12" fill="#000"/>
<rect x="2925" y="1293" width="12" height="77" fill="#000"/>
<line x1="2955.58" y1="1293.21" x2="2955.58" y2="1365.26" stroke="#585858" stroke-width="1"/>
<line x1="2974.52" y1="1293.21" x2="2974.52" y2="1365.26" stroke="#585858" stroke-width="1"/>
<line x1="2993.73" y1="1293.21" x2="2993.73" y2="1365.26" stroke="#585858" stroke-width="1"/>
<line x1="3012.94" y1="1293.21" x2="3012.94" y2="1365.26" stroke="#585858" stroke-width="1"/>
<line x1="2936.65" y1="1365.26" x2="2955.58" y2="1293.21" stroke="#585858" stroke-width="1"/>
<path d="M2936.65 1365.26 L3031.88 1365.26" fill="none" stroke="#585858" stroke-width="1"/>
<path d="M2936.65 1369.5 L3031.88 1369.5 L3031.88 1293.21" fill="none" stroke="#585858" stroke-width="1"/>
<line x1="2890.6" y1="1293.21" x2="2890.6" y2="1358.2" stroke="#555" stroke-width="1" stroke-dasharray="6 3"/>
<line x1="2779.53" y1="1293.36" x2="2779.53" y2="1357.94" stroke="#585858" stroke-width="1"/>
<rect x="2734.31" y="1305.15" width="39.32" height="46.69" rx="4" fill="#fff" stroke="#585858" stroke-width="1"/>
<rect x="2738.24" y="1309.08" width="31.46" height="38.83" rx="2" fill="none" stroke="#585858" stroke-width="1"/>
<circle cx="2753.67" cy="1328.74" r="1.8" fill="none" stroke="#585858" stroke-width="1"/>
<circle cx="2732.73" cy="1325.01" r="1.6" fill="none" stroke="#585858" stroke-width="1"/>
<circle cx="2732.73" cy="1332.48" r="1.6" fill="none" stroke="#585858" stroke-width="1"/>
<line x1="2596.68" y1="1308.59" x2="2684.08" y2="1308.59" stroke="#585858" stroke-width="1"/>
<line x1="2607.69" y1="1308.59" x2="2607.69" y2="1367.08" stroke="#585858" stroke-width="1"/>
<g transform="translate(2630.3 1293.65) rotate(0) scale(1)" fill="none" stroke="#585858" stroke-width="1">
<path d="M-17.3 0.8 L-17.3 12 A17.3 18 0 0 0 17.3 12 L17.3 0.8 Z" fill="#fff"/>
<ellipse cx="0" cy="15.4" rx="15" ry="11.8"/>
<circle cx="-7.5" cy="4.4" r="1.1" stroke-width="1.2" stroke="#444"/>
<circle cx="0" cy="4.4" r="1.1" stroke-width="1.2" stroke="#444"/>
<circle cx="7.5" cy="4.4" r="1.1" stroke-width="1.2" stroke="#444"/>
<line x1="0" y1="4.4" x2="0" y2="10.5" stroke-width="1.6"/>
<circle cx="0" cy="15.8" r="1.1" stroke-width="1.2" stroke="#444"/>
</g>
<g transform="translate(2672.77 1308.59)" fill="#fff" stroke="#585858" stroke-width="1">
<path d="M-11.3 0.5 L-11.3 5 C-15.5 17 -15 30 -7 36.5 C-3 39.8 3 39.8 7 36.5 C15 30 15.5 17 11.3 5 L11.3 0.5 Z"/>
<path d="M-11.3 3 C-5 1.4 5 1.4 11.3 3 M-11.3 5.4 C-5 3.8 5 3.8 11.3 5.4" fill="none"/>
</g>
<path d="M2596.7 1367.2 L2604.8 1367.2 A65.1 65.1 0 0 1 2645.77 1381.71 L2643.38 1384.66" fill="none" stroke="#585858" stroke-width="1"/>
<path d="M2596.7 1371 L2604.8 1371 A61.3 61.3 0 0 1 2657.62 1401.19 L2657.62 1438.2" fill="none" stroke="#585858" stroke-width="1"/>
<path d="M2600.2 1379.5 Q2600.2 1375 2604.8 1375 A57.3 57.3 0 0 1 2653.6 1402.28 L2653.6 1431.4 Q2653.6 1434.4 2650.6 1434.4 L2603.2 1434.4 Q2600.2 1434.4 2600.2 1431.4 Z" fill="none" stroke="#585858" stroke-width="1"/>
<circle cx="2607.5" cy="1426.55" r="1.9" fill="none" stroke="#585858" stroke-width="1"/>
<circle cx="2607.5" cy="1426.55" r="0.8" fill="none" stroke="#585858" stroke-width="1"/>
<line x1="2607.5" y1="1396.08" x2="2607.5" y2="1419.18" stroke="#585858" stroke-width="1"/>
<line x1="2613.1" y1="1421.64" x2="2629.81" y2="1405.13" stroke="#585858" stroke-width="1"/>
<line x1="2615.36" y1="1426.55" x2="2638.17" y2="1426.55" stroke="#585858" stroke-width="1"/>
<polygon points="2711.89,1433.63 2675.52,1399.71 2678.38,1396.64 2714.76,1430.56" fill="#fff" stroke="#1a1a1a" stroke-width="1"/>
<path d="M2678.38 1396.64 A49.74 49.74 0 0 1 2711.03 1383.9" fill="none" stroke="#1a1a1a" stroke-width="1"/>
<polygon points="2779.23,1434.42 2730.08,1434.42 2730.08,1430.22 2779.23,1430.22" fill="#fff" stroke="#1a1a1a" stroke-width="1"/>
<path d="M2730.08 1430.22 A49.15 49.15 0 0 1 2779.23 1385.27" fill="none" stroke="#1a1a1a" stroke-width="1"/>
<rect x="3115.61" y="1354.36" width="7.94" height="3.34" fill="#fff" stroke="#1a1a1a" stroke-width="1"/>
<rect x="3115.6" y="1415.3" width="8" height="3.1" fill="#fff" stroke="#1a1a1a" stroke-width="1"/>
<polygon points="3115.6,1415.5 3058.4,1415.5 3058.4,1411.3 3115.6,1411.3" fill="#fff" stroke="#1a1a1a" stroke-width="1"/>
<path d="M3058.4 1411.3 A57.2 57.2 0 0 1 3115.6 1358.3" fill="none" stroke="#1a1a1a" stroke-width="1"/>
<polygon points="3049.4,1450.03 3049.4,1507.11 3045.2,1507.11 3045.2,1450.03" fill="#fff" stroke="#1a1a1a" stroke-width="1"/>
<path d="M3045.2 1507.11 A57.08 57.08 0 0 1 2992.32 1450.03" fill="none" stroke="#1a1a1a" stroke-width="1"/>
<rect x="3116" y="1509.2" width="15.7" height="3.6" fill="#fff" stroke="#1a1a1a" stroke-width="1"/>
<polygon points="3123.7,1512.8 3181.1,1512.8 3181.1,1516.4 3123.7,1516.4" fill="#fff" stroke="#1a1a1a" stroke-width="1"/>
<path d="M3181.1 1516.4 A57.4 57.4 0 0 1 3123.7 1570.2" fill="none" stroke="#1a1a1a" stroke-width="1"/>
<rect x="3116" y="1626.9" width="15.7" height="3.6" fill="#fff" stroke="#1a1a1a" stroke-width="1"/>
<polygon points="3123.7,1626.9 3181.1,1626.9 3181.1,1623.3 3123.7,1623.3" fill="#fff" stroke="#1a1a1a" stroke-width="1"/>
<path d="M3181.1 1623.3 A57.4 57.4 0 0 0 3123.7 1569.5" fill="none" stroke="#1a1a1a" stroke-width="1"/>
<rect x="3116" y="1719.1" width="15.7" height="3.6" fill="#fff" stroke="#1a1a1a" stroke-width="1"/>
<polygon points="3123.7,1722.7 3169.4,1722.7 3169.4,1726.3 3123.7,1726.3" fill="#fff" stroke="#1a1a1a" stroke-width="1"/>
<path d="M3169.4 1726.3 A45.7 45.7 0 0 1 3123.7 1768.4" fill="none" stroke="#1a1a1a" stroke-width="1"/>
<rect x="3116" y="1814" width="15.7" height="3.6" fill="#fff" stroke="#1a1a1a" stroke-width="1"/>
<polygon points="3123.7,1814 3169.4,1814 3169.4,1810.4 3123.7,1810.4" fill="#fff" stroke="#1a1a1a" stroke-width="1"/>
<path d="M3169.4 1810.4 A45.7 45.7 0 0 0 3123.7 1768.3" fill="none" stroke="#1a1a1a" stroke-width="1"/>
<rect x="2663.8" y="1881" width="3.7" height="7.8" fill="#fff" stroke="#1a1a1a" stroke-width="1"/>
<rect x="2667" y="1888.8" width="4" height="7.2" fill="#fff" stroke="#1a1a1a" stroke-width="1"/>
<rect x="2759" y="1881" width="3.8" height="7.8" fill="#fff" stroke="#1a1a1a" stroke-width="1"/>
<rect x="2755.3" y="1888.8" width="4" height="7.2" fill="#fff" stroke="#1a1a1a" stroke-width="1"/>
<polygon points="2667,1888.8 2667,1935.1 2670.8,1935.1 2670.8,1888.8" fill="#fff" stroke="#1a1a1a" stroke-width="1"/>
<path d="M2670.8 1935.1 A46.3 46.3 0 0 0 2713.3 1888.8" fill="none" stroke="#1a1a1a" stroke-width="1"/>
<polygon points="2759.3,1888.8 2759.3,1935.1 2755.5,1935.1 2755.5,1888.8" fill="#fff" stroke="#1a1a1a" stroke-width="1"/>
<path d="M2755.5 1935.1 A46.3 46.3 0 0 1 2713 1888.8" fill="none" stroke="#1a1a1a" stroke-width="1"/>
<text x="2808.7" y="1413.9" font-size="26.67" text-anchor="start">Up</text>
<line x1="2774.91" y1="1408.66" x2="2805.77" y2="1408.66" stroke="#333" stroke-width="1"/>
<polygon points="2768.91,1408.66 2780.21,1406.76 2780.21,1410.56" fill="#000"/>
<line x1="2791.22" y1="1421.15" x2="2791.22" y2="1427.54" stroke="#000" stroke-width="1.2"/>
<polygon points="2791.72,1423.61 2802.72,1421.11 2802.72,1426.11" fill="#000"/>
<rect x="2973.3" y="1133.4" width="156.2" height="102.8" fill="#fff" stroke="#888" stroke-width="1"/>
<text x="3050.2" y="1157.6" font-size="26.67" text-anchor="middle">Kitchen</text>
<text x="3050.2" y="1189.4" font-size="26.67" text-anchor="middle">4.25 x 1.88</text>
<text x="3050.2" y="1221.2" font-size="26.67" text-anchor="middle">13'11 x 6'2</text>
<path d="M3058.17 1236.34 C3070.7 1266.21 3074.46 1318.43 3043.13 1371.7" fill="none" stroke="#222" stroke-width="1"/>
<polygon points="3039.37,1376.5 3043.62,1366.6 3047.5,1369.43" fill="#000"/>
<polygon points="3072,1293.21 3069.5,1304.21 3074.5,1304.21" fill="#000"/>
<polygon points="2656.07,1450.03 2653.57,1461.03 2658.57,1461.03" fill="#000"/>
<polygon points="2950.5,1450.03 2948,1461.03 2953,1461.03" fill="#000"/>
<polygon points="3072,1438.45 3069.5,1427.45 3074.5,1427.45" fill="#000"/>
<polygon points="3108.17,1423.75 3097.17,1421.25 3097.17,1426.25" fill="#000"/>
<rect x="2573" y="1587" width="39" height="34" fill="#000"/>
<rect x="2573" y="1873" width="91" height="23" fill="#000"/>
<rect x="2763" y="1873" width="369" height="23" fill="#000"/>
<rect x="2573" y="1858" width="69" height="15" fill="#000"/>
<rect x="2821" y="1850" width="66" height="23" fill="#000"/>
<rect x="3077" y="1835" width="55" height="38" fill="#000"/>
<rect x="3108" y="1818" width="24" height="17" fill="#000"/>
<rect x="3108" y="1630" width="24" height="89" fill="#000"/>
<rect x="3092.38" y="1663.59" width="15.97" height="38.32" fill="#fff" stroke="#888" stroke-width="1"/>
<polygon points="2596.73,1643.15 2607.73,1640.65 2607.73,1645.65" fill="#000"/>
<polygon points="2779.4,1642.83 2768.4,1640.33 2768.4,1645.33" fill="#000"/>
<polygon points="2791.54,1642.83 2802.54,1640.33 2802.54,1645.33" fill="#000"/>
<polygon points="3108.34,1642.83 3097.34,1640.33 3097.34,1645.33" fill="#000"/>
<polygon points="2656.77,1873.09 2654.27,1862.09 2659.27,1862.09" fill="#000"/>
<polygon points="2950.26,1873.09 2947.76,1862.09 2952.76,1862.09" fill="#000"/>
<text x="2687.8" y="1638.4" font-size="26.67" text-anchor="middle">Workshop</text>
<text x="2687.8" y="1670.4" font-size="26.67" text-anchor="middle">5.56 x 2.41</text>
<text x="2687.8" y="1702.4" font-size="26.67" text-anchor="middle">18'3 x 7'11</text>
<text x="2948.1" y="1637.4" font-size="26.67" text-anchor="middle">Studio</text>
<text x="2948.1" y="1669.4" font-size="26.67" text-anchor="middle">5.56 x 4.16</text>
<text x="2948.1" y="1701.4" font-size="26.67" text-anchor="middle">18'3 x 13'8</text>
</g>
</svg>
</body></html>
